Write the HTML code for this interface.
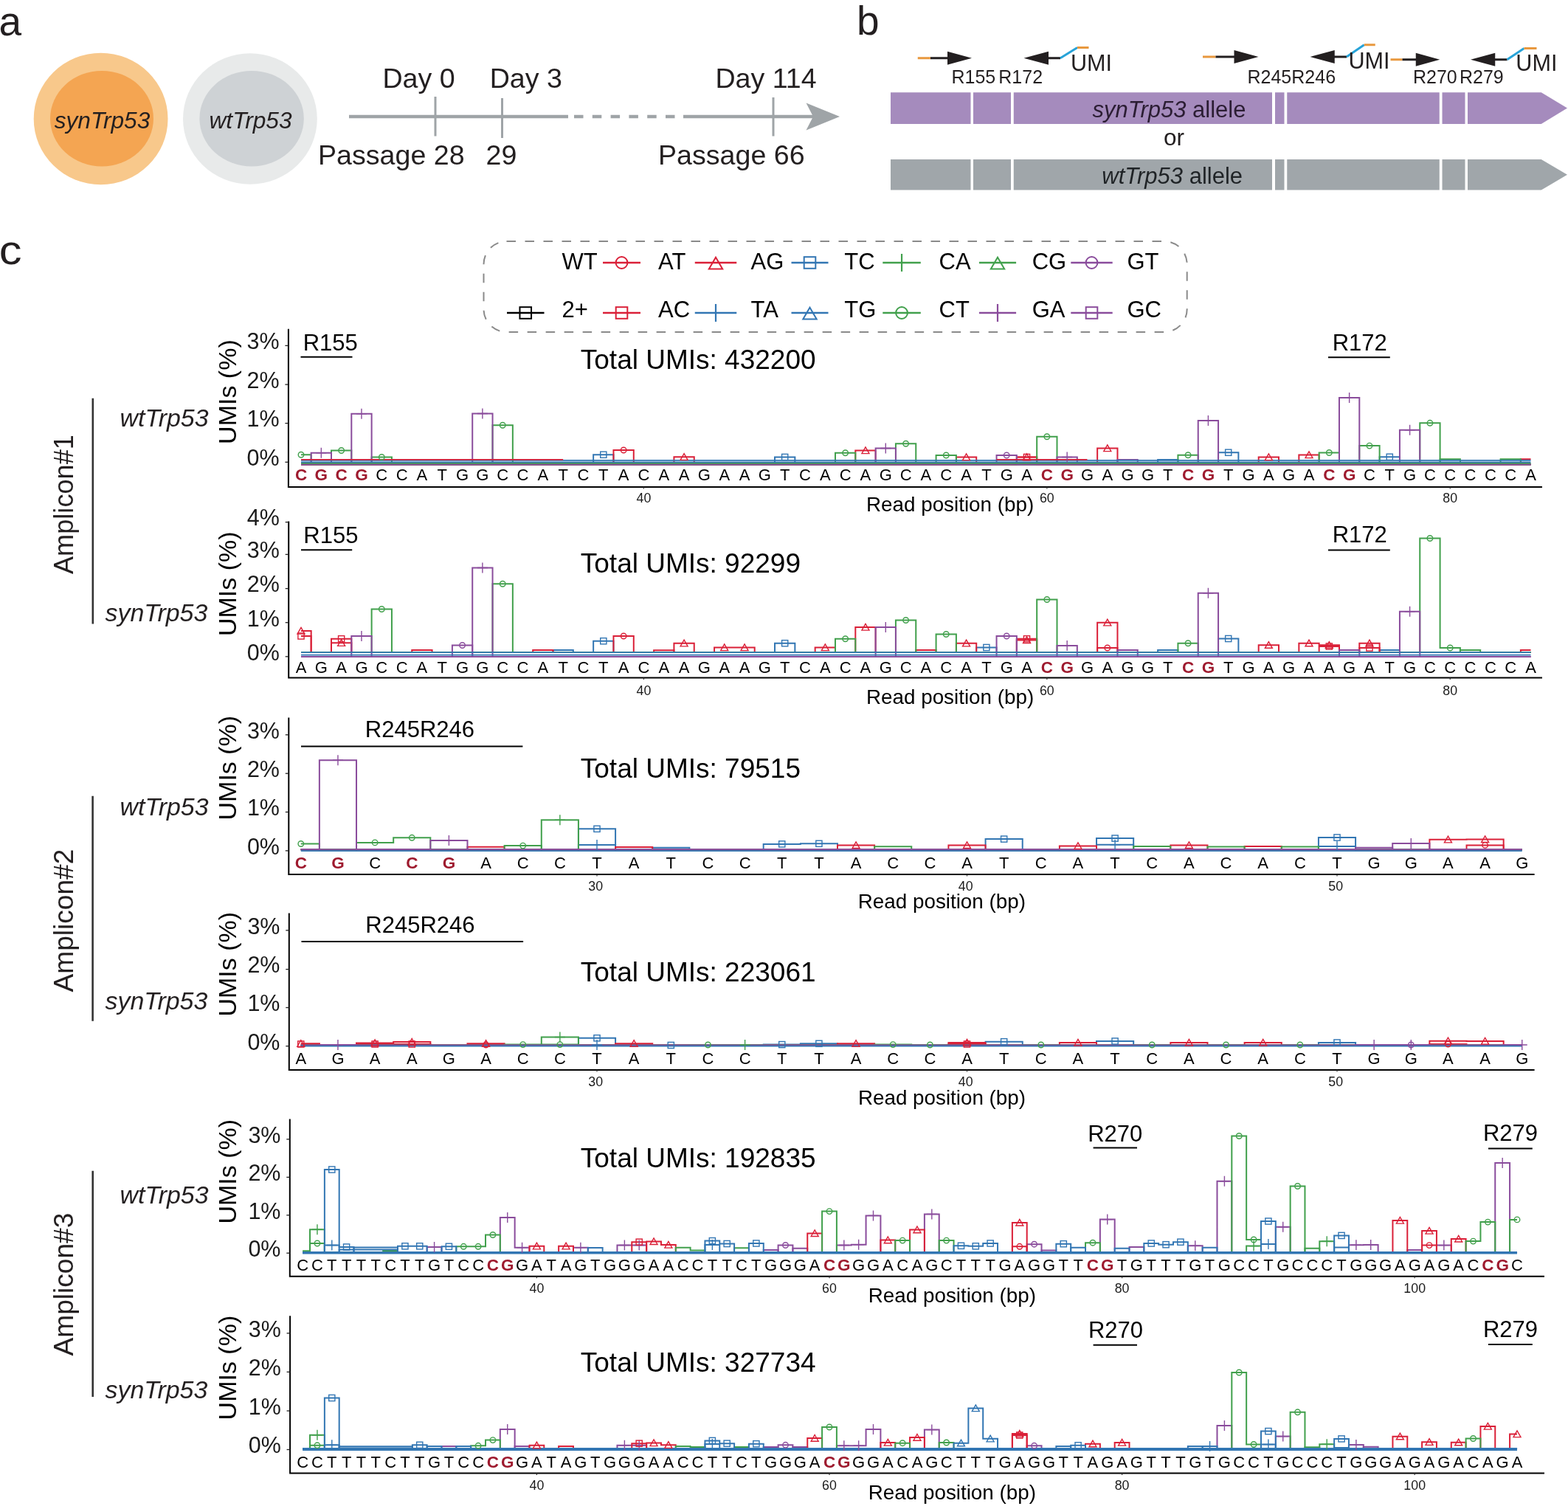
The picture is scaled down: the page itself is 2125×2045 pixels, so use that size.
<!DOCTYPE html><html><head><meta charset="utf-8"><title>Figure</title><style>html,body{margin:0;padding:0;background:#fff;}svg{display:block;}text{font-family:'Liberation Sans', Arial, Helvetica, sans-serif;}</style></head><body>
<svg width="2125" height="2045" viewBox="0 0 2125 2045">
<rect width="2125" height="2045" fill="#fff"/>
<text x="-1.5" y="48" font-size="55" text-anchor="start" fill="#231f20">a</text>
<ellipse cx="136.6" cy="161" rx="90.9" ry="89.2" fill="#f8c88b"/>
<ellipse cx="138" cy="160.7" rx="70" ry="64.8" fill="#f4a552"/>
<ellipse cx="338.9" cy="161" rx="90.9" ry="88.7" fill="#e8eaea"/>
<ellipse cx="341.1" cy="160.7" rx="70.7" ry="64.8" fill="#ced2d5"/>
<text x="138.5" y="173.7" font-size="31.7" text-anchor="middle" fill="#231f20" font-style="italic">synTrp53</text>
<text x="339.5" y="173.7" font-size="31.7" text-anchor="middle" fill="#231f20" font-style="italic">wtTrp53</text>
<path d="M473 158H770" stroke="#9fa4a7" stroke-width="4.5" fill="none"/>
<path d="M778 158H926" stroke="#9fa4a7" stroke-width="4.5" fill="none" stroke-dasharray="12.5 12.3"/>
<path d="M926 158H1103" stroke="#9fa4a7" stroke-width="4.5" fill="none"/>
<path d="M1138 158L1092.5 139.5L1102 158L1092.5 176.5Z" fill="#9fa4a7"/>
<path d="M590 131V184.5" stroke="#9fa4a7" stroke-width="3" fill="none"/>
<path d="M680.5 133V187" stroke="#9fa4a7" stroke-width="3" fill="none"/>
<path d="M1048 132V184.5" stroke="#9fa4a7" stroke-width="3" fill="none"/>
<text x="567.5" y="119" font-size="37.6" text-anchor="middle" fill="#231f20">Day 0</text>
<text x="712.8" y="119" font-size="37.6" text-anchor="middle" fill="#231f20">Day 3</text>
<text x="1038" y="119" font-size="37.6" text-anchor="middle" fill="#231f20">Day 114</text>
<text x="530.3" y="222.5" font-size="37.6" text-anchor="middle" fill="#231f20">Passage 28</text>
<text x="679.5" y="222.5" font-size="37.6" text-anchor="middle" fill="#231f20">29</text>
<text x="991.3" y="222.5" font-size="37.6" text-anchor="middle" fill="#231f20">Passage 66</text>
<text x="1161" y="47" font-size="55" text-anchor="start" fill="#231f20">b</text>
<path d="M1207 125.3H2088.75L2124 146.6L2088.75 167.9H1207Z" fill="#a58bbd"/>
<rect x="1315.5" y="124.3" width="3.5" height="44.6" fill="#fff"/>
<rect x="1370" y="124.3" width="3.75" height="44.6" fill="#fff"/>
<rect x="1724" y="124.3" width="4" height="44.6" fill="#fff"/>
<rect x="1740.5" y="124.3" width="3.75" height="44.6" fill="#fff"/>
<rect x="1950.75" y="124.3" width="3.75" height="44.6" fill="#fff"/>
<rect x="1985.5" y="124.3" width="3.5" height="44.6" fill="#fff"/>
<path d="M1207 216H2088.75L2124 236.8L2088.75 257.6H1207Z" fill="#a0a6aa"/>
<rect x="1315.5" y="215" width="3.5" height="43.6" fill="#fff"/>
<rect x="1370" y="215" width="3.75" height="43.6" fill="#fff"/>
<rect x="1724" y="215" width="4" height="43.6" fill="#fff"/>
<rect x="1740.5" y="215" width="3.75" height="43.6" fill="#fff"/>
<rect x="1950.75" y="215" width="3.75" height="43.6" fill="#fff"/>
<rect x="1985.5" y="215" width="3.5" height="43.6" fill="#fff"/>
<text x="1584.5" y="158.7" font-size="31" text-anchor="middle" fill="#2b1d33"><tspan font-style="italic">synTrp53</tspan> allele</text>
<text x="1588.7" y="248.5" font-size="31" text-anchor="middle" fill="#1f2326"><tspan font-style="italic">wtTrp53</tspan> allele</text>
<text x="1591" y="196.9" font-size="31.5" text-anchor="middle" fill="#231f20">or</text>
<path d="M1243.75 78.75H1261" stroke="#e8983e" stroke-width="3" fill="none"/>
<path d="M1261 78.75H1286" stroke="#231f20" stroke-width="3" fill="none"/>
<path d="M1284 69.75L1317 78.75L1284 87.75Z" fill="#231f20"/>
<path d="M1387.5 78.75L1421 69.75L1421 87.75Z" fill="#231f20"/>
<path d="M1419 78.75H1437" stroke="#231f20" stroke-width="3" fill="none"/>
<path d="M1437 78.75L1460 64.5" stroke="#27a3d8" stroke-width="3" fill="none"/>
<path d="M1460 64.5H1475.5" stroke="#e8983e" stroke-width="3" fill="none"/>
<path d="M1630 77H1647.5" stroke="#e8983e" stroke-width="3" fill="none"/>
<path d="M1647.5 77H1674.5" stroke="#231f20" stroke-width="3" fill="none"/>
<path d="M1672.5 68L1705.5 77L1672.5 86Z" fill="#231f20"/>
<path d="M1775.5 77L1808.75 68L1808.75 86Z" fill="#231f20"/>
<path d="M1806.75 77H1825" stroke="#231f20" stroke-width="3" fill="none"/>
<path d="M1825 77L1848.75 60.75" stroke="#27a3d8" stroke-width="3" fill="none"/>
<path d="M1848.75 60.75H1863.75" stroke="#e8983e" stroke-width="3" fill="none"/>
<path d="M1884.5 80.75H1900.5" stroke="#e8983e" stroke-width="3" fill="none"/>
<path d="M1900.5 80.75H1920.75" stroke="#231f20" stroke-width="3" fill="none"/>
<path d="M1918.75 71.75L1951.25 80.75L1918.75 89.75Z" fill="#231f20"/>
<path d="M1993 80.75L2026.25 71.75L2026.25 89.75Z" fill="#231f20"/>
<path d="M2024.25 80.75H2042.5" stroke="#231f20" stroke-width="3" fill="none"/>
<path d="M2042.5 80.75L2065.5 65.5" stroke="#27a3d8" stroke-width="3" fill="none"/>
<path d="M2065.5 65.5H2082.5" stroke="#e8983e" stroke-width="3" fill="none"/>
<text x="1451" y="96.3" font-size="30.6" text-anchor="start" fill="#231f20">UMI</text>
<text x="1827.5" y="93.3" font-size="30.6" text-anchor="start" fill="#231f20">UMI</text>
<text x="2054.3" y="96.3" font-size="30.6" text-anchor="start" fill="#231f20">UMI</text>
<text x="1289.5" y="113.3" font-size="25" text-anchor="start" fill="#231f20">R155</text>
<text x="1353.3" y="113.3" font-size="25" text-anchor="start" fill="#231f20">R172</text>
<text x="1690.5" y="113.3" font-size="25" text-anchor="start" fill="#231f20">R245R246</text>
<text x="1915" y="113.3" font-size="25" text-anchor="start" fill="#231f20">R270</text>
<text x="1978" y="113.3" font-size="25" text-anchor="start" fill="#231f20">R279</text>
<text x="0" y="0" font-size="55.5" fill="#231f20" transform="translate(-1.3 357.6) scale(1.11 1)">c</text>
<rect x="655.5" y="327" width="953.2" height="123" rx="31" ry="31" fill="none" stroke="#8a8a8a" stroke-width="2" stroke-dasharray="12.5 12.5"/>
<text x="761.5" y="365" font-size="31" text-anchor="start" fill="#000">WT</text>
<path d="M817 356H868" stroke="#da2038" stroke-width="2.6" fill="none"/>
<circle cx="842.5" cy="356" r="7.9" fill="none" stroke="#da2038" stroke-width="2"/>
<text x="892" y="365" font-size="31" text-anchor="start" fill="#000">AT</text>
<path d="M941.75 356H998.25" stroke="#da2038" stroke-width="2.6" fill="none"/>
<path d="M970 348.8L979.2 364.6L960.8 364.6Z" fill="none" stroke="#da2038" stroke-width="2"/>
<text x="1017.5" y="365" font-size="31" text-anchor="start" fill="#000">AG</text>
<path d="M1072.5 356H1122.5" stroke="#3276b3" stroke-width="2.6" fill="none"/>
<rect x="1089.7" y="348.2" width="15.6" height="15.6" fill="none" stroke="#3276b3" stroke-width="2"/>
<text x="1144.25" y="365" font-size="31" text-anchor="start" fill="#000">TC</text>
<path d="M1196.3 356H1247.8" stroke="#41a04c" stroke-width="2.6" fill="none"/>
<path d="M1222.05 344V368" stroke="#41a04c" stroke-width="2.2" fill="none"/>
<text x="1272.5" y="365" font-size="31" text-anchor="start" fill="#000">CA</text>
<path d="M1326.9 356H1377.1" stroke="#41a04c" stroke-width="2.6" fill="none"/>
<path d="M1352 348.8L1361.2 364.6L1342.8 364.6Z" fill="none" stroke="#41a04c" stroke-width="2"/>
<text x="1398.7" y="365" font-size="31" text-anchor="start" fill="#000">CG</text>
<path d="M1451.3 356H1507.7" stroke="#8a4c9c" stroke-width="2.6" fill="none"/>
<circle cx="1479.5" cy="356" r="7.9" fill="none" stroke="#8a4c9c" stroke-width="2"/>
<text x="1527.5" y="365" font-size="31" text-anchor="start" fill="#000">GT</text>
<path d="M687 424H737.5" stroke="#000000" stroke-width="2.6" fill="none"/>
<rect x="704.45" y="416.2" width="15.6" height="15.6" fill="none" stroke="#000000" stroke-width="2"/>
<text x="761.5" y="430" font-size="31" text-anchor="start" fill="#000">2+</text>
<path d="M817 424H868" stroke="#da2038" stroke-width="2.6" fill="none"/>
<rect x="834.7" y="416.2" width="15.6" height="15.6" fill="none" stroke="#da2038" stroke-width="2"/>
<text x="892" y="430" font-size="31" text-anchor="start" fill="#000">AC</text>
<path d="M941.75 424H998.25" stroke="#3276b3" stroke-width="2.6" fill="none"/>
<path d="M970 412V436" stroke="#3276b3" stroke-width="2.2" fill="none"/>
<text x="1017.5" y="430" font-size="31" text-anchor="start" fill="#000">TA</text>
<path d="M1072.5 424H1122.5" stroke="#3276b3" stroke-width="2.6" fill="none"/>
<path d="M1097.5 416.8L1106.7 432.6L1088.3 432.6Z" fill="none" stroke="#3276b3" stroke-width="2"/>
<text x="1144.25" y="430" font-size="31" text-anchor="start" fill="#000">TG</text>
<path d="M1196.3 424H1247.8" stroke="#41a04c" stroke-width="2.6" fill="none"/>
<circle cx="1222.05" cy="424" r="7.9" fill="none" stroke="#41a04c" stroke-width="2"/>
<text x="1272.5" y="430" font-size="31" text-anchor="start" fill="#000">CT</text>
<path d="M1326.9 424H1377.1" stroke="#8a4c9c" stroke-width="2.6" fill="none"/>
<path d="M1352 412V436" stroke="#8a4c9c" stroke-width="2.2" fill="none"/>
<text x="1398.7" y="430" font-size="31" text-anchor="start" fill="#000">GA</text>
<path d="M1451.3 424H1507.7" stroke="#8a4c9c" stroke-width="2.6" fill="none"/>
<rect x="1471.7" y="416.2" width="15.6" height="15.6" fill="none" stroke="#8a4c9c" stroke-width="2"/>
<text x="1527.5" y="430" font-size="31" text-anchor="start" fill="#000">GC</text>
<path d="M390.9 445.8V660H2090" stroke="#000" stroke-width="2" fill="none"/>
<path d="M386.4 626.3H390.9" stroke="#222" stroke-width="1.3" fill="none"/>
<text x="378.6" y="631.1" font-size="30.5" text-anchor="end" fill="#1a1a1a">0%</text>
<path d="M386.4 573.6H390.9" stroke="#222" stroke-width="1.3" fill="none"/>
<text x="378.6" y="578.4" font-size="30.5" text-anchor="end" fill="#1a1a1a">1%</text>
<path d="M386.4 521.1H390.9" stroke="#222" stroke-width="1.3" fill="none"/>
<text x="378.6" y="525.9" font-size="30.5" text-anchor="end" fill="#1a1a1a">2%</text>
<path d="M386.4 468.4H390.9" stroke="#222" stroke-width="1.3" fill="none"/>
<text x="378.6" y="473.2" font-size="30.5" text-anchor="end" fill="#1a1a1a">3%</text>
<path d="M872.44 660V662.5" stroke="#333" stroke-width="1.2" fill="none"/>
<text x="872.44" y="681" font-size="17.8" text-anchor="middle" fill="#1a1a1a">40</text>
<path d="M1418.84 660V662.5" stroke="#333" stroke-width="1.2" fill="none"/>
<text x="1418.84" y="681" font-size="17.8" text-anchor="middle" fill="#1a1a1a">60</text>
<path d="M1965.24 660V662.5" stroke="#333" stroke-width="1.2" fill="none"/>
<text x="1965.24" y="681" font-size="17.8" text-anchor="middle" fill="#1a1a1a">80</text>
<text x="408" y="650.8" font-size="22.5" text-anchor="middle" fill="#9e1a2e" font-weight="bold">C</text>
<text x="435.32" y="650.8" font-size="22.5" text-anchor="middle" fill="#9e1a2e" font-weight="bold">G</text>
<text x="462.64" y="650.8" font-size="22.5" text-anchor="middle" fill="#9e1a2e" font-weight="bold">C</text>
<text x="489.96" y="650.8" font-size="22.5" text-anchor="middle" fill="#9e1a2e" font-weight="bold">G</text>
<text x="517.28" y="650.8" font-size="22" text-anchor="middle" fill="#000">C</text>
<text x="544.6" y="650.8" font-size="22" text-anchor="middle" fill="#000">C</text>
<text x="571.92" y="650.8" font-size="22" text-anchor="middle" fill="#000">A</text>
<text x="599.24" y="650.8" font-size="22" text-anchor="middle" fill="#000">T</text>
<text x="626.56" y="650.8" font-size="22" text-anchor="middle" fill="#000">G</text>
<text x="653.88" y="650.8" font-size="22" text-anchor="middle" fill="#000">G</text>
<text x="681.2" y="650.8" font-size="22" text-anchor="middle" fill="#000">C</text>
<text x="708.52" y="650.8" font-size="22" text-anchor="middle" fill="#000">C</text>
<text x="735.84" y="650.8" font-size="22" text-anchor="middle" fill="#000">A</text>
<text x="763.16" y="650.8" font-size="22" text-anchor="middle" fill="#000">T</text>
<text x="790.48" y="650.8" font-size="22" text-anchor="middle" fill="#000">C</text>
<text x="817.8" y="650.8" font-size="22" text-anchor="middle" fill="#000">T</text>
<text x="845.12" y="650.8" font-size="22" text-anchor="middle" fill="#000">A</text>
<text x="872.44" y="650.8" font-size="22" text-anchor="middle" fill="#000">C</text>
<text x="899.76" y="650.8" font-size="22" text-anchor="middle" fill="#000">A</text>
<text x="927.08" y="650.8" font-size="22" text-anchor="middle" fill="#000">A</text>
<text x="954.4" y="650.8" font-size="22" text-anchor="middle" fill="#000">G</text>
<text x="981.72" y="650.8" font-size="22" text-anchor="middle" fill="#000">A</text>
<text x="1009.04" y="650.8" font-size="22" text-anchor="middle" fill="#000">A</text>
<text x="1036.36" y="650.8" font-size="22" text-anchor="middle" fill="#000">G</text>
<text x="1063.68" y="650.8" font-size="22" text-anchor="middle" fill="#000">T</text>
<text x="1091" y="650.8" font-size="22" text-anchor="middle" fill="#000">C</text>
<text x="1118.32" y="650.8" font-size="22" text-anchor="middle" fill="#000">A</text>
<text x="1145.64" y="650.8" font-size="22" text-anchor="middle" fill="#000">C</text>
<text x="1172.96" y="650.8" font-size="22" text-anchor="middle" fill="#000">A</text>
<text x="1200.28" y="650.8" font-size="22" text-anchor="middle" fill="#000">G</text>
<text x="1227.6" y="650.8" font-size="22" text-anchor="middle" fill="#000">C</text>
<text x="1254.92" y="650.8" font-size="22" text-anchor="middle" fill="#000">A</text>
<text x="1282.24" y="650.8" font-size="22" text-anchor="middle" fill="#000">C</text>
<text x="1309.56" y="650.8" font-size="22" text-anchor="middle" fill="#000">A</text>
<text x="1336.88" y="650.8" font-size="22" text-anchor="middle" fill="#000">T</text>
<text x="1364.2" y="650.8" font-size="22" text-anchor="middle" fill="#000">G</text>
<text x="1391.52" y="650.8" font-size="22" text-anchor="middle" fill="#000">A</text>
<text x="1418.84" y="650.8" font-size="22.5" text-anchor="middle" fill="#9e1a2e" font-weight="bold">C</text>
<text x="1446.16" y="650.8" font-size="22.5" text-anchor="middle" fill="#9e1a2e" font-weight="bold">G</text>
<text x="1473.48" y="650.8" font-size="22" text-anchor="middle" fill="#000">G</text>
<text x="1500.8" y="650.8" font-size="22" text-anchor="middle" fill="#000">A</text>
<text x="1528.12" y="650.8" font-size="22" text-anchor="middle" fill="#000">G</text>
<text x="1555.44" y="650.8" font-size="22" text-anchor="middle" fill="#000">G</text>
<text x="1582.76" y="650.8" font-size="22" text-anchor="middle" fill="#000">T</text>
<text x="1610.08" y="650.8" font-size="22.5" text-anchor="middle" fill="#9e1a2e" font-weight="bold">C</text>
<text x="1637.4" y="650.8" font-size="22.5" text-anchor="middle" fill="#9e1a2e" font-weight="bold">G</text>
<text x="1664.72" y="650.8" font-size="22" text-anchor="middle" fill="#000">T</text>
<text x="1692.04" y="650.8" font-size="22" text-anchor="middle" fill="#000">G</text>
<text x="1719.36" y="650.8" font-size="22" text-anchor="middle" fill="#000">A</text>
<text x="1746.68" y="650.8" font-size="22" text-anchor="middle" fill="#000">G</text>
<text x="1774" y="650.8" font-size="22" text-anchor="middle" fill="#000">A</text>
<text x="1801.32" y="650.8" font-size="22.5" text-anchor="middle" fill="#9e1a2e" font-weight="bold">C</text>
<text x="1828.64" y="650.8" font-size="22.5" text-anchor="middle" fill="#9e1a2e" font-weight="bold">G</text>
<text x="1855.96" y="650.8" font-size="22" text-anchor="middle" fill="#000">C</text>
<text x="1883.28" y="650.8" font-size="22" text-anchor="middle" fill="#000">T</text>
<text x="1910.6" y="650.8" font-size="22" text-anchor="middle" fill="#000">G</text>
<text x="1937.92" y="650.8" font-size="22" text-anchor="middle" fill="#000">C</text>
<text x="1965.24" y="650.8" font-size="22" text-anchor="middle" fill="#000">C</text>
<text x="1992.56" y="650.8" font-size="22" text-anchor="middle" fill="#000">C</text>
<text x="2019.88" y="650.8" font-size="22" text-anchor="middle" fill="#000">C</text>
<text x="2047.2" y="650.8" font-size="22" text-anchor="middle" fill="#000">C</text>
<text x="2074.52" y="650.8" font-size="22" text-anchor="middle" fill="#000">A</text>
<text x="1174" y="692.5" font-size="27.8" text-anchor="start" fill="#000">Read position (bp)</text>
<text x="786.8" y="500.2" font-size="37" text-anchor="start" fill="#000">Total UMIs: 432200</text>
<text x="410.7" y="475" font-size="31" text-anchor="start" fill="#000">R155</text>
<path d="M407.5 483.8H477.5" stroke="#000" stroke-width="2" fill="none"/>
<text x="1805.7" y="474.8" font-size="31" text-anchor="start" fill="#000">R172</text>
<path d="M1800 484.2H1883.8" stroke="#000" stroke-width="2" fill="none"/>
<text x="0" y="0" font-size="34" fill="#000" transform="translate(320.3 601.9) rotate(-90)">UMIs (%)</text>
<path d="M408 629.3H421.66H448.98H476.3H503.62H530.94H558.26H585.58H612.9H640.22H667.54H694.86H722.18H749.5H776.82H804.14H831.46H858.78H886.1H913.42H940.74H968.06H995.38H1022.7H1050.02H1077.34H1104.66H1131.98H1159.3H1186.62H1213.94H1241.26H1268.58H1295.9H1323.22H1350.54H1377.86H1405.18H1432.5H1459.82H1487.14H1514.46H1541.78H1569.1V623H1596.42V629.3H1623.74H1651.06H1678.38H1705.7H1733.02H1760.34H1787.66H1814.98H1842.3H1869.62H1896.94H1924.26H1951.58H1978.9H2006.22H2033.54H2060.86H2074.52" stroke="#3276b3" stroke-width="2" fill="none"/>
<path d="M408 629.3H421.66H448.98H476.3H503.62H530.94H558.26H585.58H612.9H640.22H667.54H694.86H722.18H749.5H776.82H804.14V616.25H831.46V629.3H858.78H886.1H913.42H940.74H968.06H995.38H1022.7H1050.02V619.5H1077.34V629.3H1104.66H1131.98H1159.3H1186.62H1213.94H1241.26H1268.58H1295.9H1323.22H1350.54H1377.86H1405.18H1432.5H1459.82H1487.14H1514.46H1541.78H1569.1H1596.42H1623.74H1651.06V613.25H1678.38V629.3H1705.7H1733.02H1760.34H1787.66H1814.98H1842.3H1869.62V619.3H1896.94V629.3H1924.26H1951.58H1978.9H2006.22H2033.54H2060.86H2074.52" stroke="#3276b3" stroke-width="2" fill="none"/>
<path d="M408 629.3H421.66H448.98H476.3H503.62H530.94H558.26H585.58H612.9H640.22H667.54H694.86H722.18H749.5H776.82H804.14H831.46H858.78H886.1H913.42H940.74H968.06H995.38H1022.7H1050.02H1077.34H1104.66H1131.98H1159.3H1186.62H1213.94H1241.26H1268.58H1295.9H1323.22H1350.54H1377.86H1405.18H1432.5H1459.82H1487.14H1514.46H1541.78H1569.1H1596.42H1623.74H1651.06H1678.38H1705.7H1733.02H1760.34H1787.66H1814.98H1842.3H1869.62H1896.94H1924.26H1951.58H1978.9H2006.22H2033.54H2060.86V622.3H2074.52" stroke="#da2038" stroke-width="2" fill="none"/>
<path d="M408 629.3H421.66H448.98H476.3H503.62H530.94H558.26H585.58H612.9H640.22H667.54H694.86H722.18H749.5H776.82H804.14H831.46V610H858.78V629.3H886.1H913.42H940.74H968.06H995.38H1022.7H1050.02H1077.34H1104.66H1131.98H1159.3H1186.62H1213.94H1241.26H1268.58H1295.9H1323.22H1350.54H1377.86H1405.18H1432.5H1459.82H1487.14H1514.46H1541.78H1569.1H1596.42H1623.74H1651.06H1678.38H1705.7H1733.02H1760.34H1787.66H1814.98H1842.3H1869.62H1896.94H1924.26H1951.58H1978.9H2006.22H2033.54H2060.86H2074.52" stroke="#da2038" stroke-width="2" fill="none"/>
<path d="M408 629.3H421.66H448.98H476.3H503.62H530.94H558.26H585.58H612.9H640.22H667.54H694.86H722.18H749.5H776.82H804.14H831.46H858.78H886.1H913.42V619.25H940.74V629.3H968.06H995.38H1022.7H1050.02H1077.34H1104.66H1131.98H1159.3V610.5H1186.62V629.3H1213.94H1241.26H1268.58H1295.9V619.5H1323.22V629.3H1350.54H1377.86V619.5H1405.18V629.3H1432.5H1459.82H1487.14V607.5H1514.46V629.3H1541.78H1569.1H1596.42H1623.74H1651.06H1678.38H1705.7V619.5H1733.02V629.3H1760.34V616.5H1787.66V629.3H1814.98H1842.3H1869.62H1896.94H1924.26H1951.58H1978.9H2006.22H2033.54H2060.86H2074.52" stroke="#da2038" stroke-width="2" fill="none"/>
<path d="M408 629.3H421.66H448.98H476.3H503.62H530.94H558.26H585.58H612.9H640.22H667.54H694.86H722.18H749.5H776.82H804.14H831.46H858.78H886.1H913.42H940.74H968.06H995.38H1022.7H1050.02H1077.34H1104.66H1131.98H1159.3H1186.62H1213.94H1241.26H1268.58H1295.9H1323.22H1350.54H1377.86V619.5H1405.18V629.3H1432.5H1459.82H1487.14H1514.46H1541.78H1569.1H1596.42H1623.74H1651.06H1678.38H1705.7H1733.02H1760.34H1787.66H1814.98H1842.3H1869.62H1896.94H1924.26H1951.58H1978.9H2006.22H2033.54H2060.86H2074.52" stroke="#da2038" stroke-width="2" fill="none"/>
<path d="M408 629.3H421.66H448.98H476.3H503.62H530.94H558.26H585.58H612.9H640.22H667.54H694.86H722.18H749.5H776.82H804.14H831.46H858.78H886.1H913.42H940.74H968.06H995.38H1022.7H1050.02H1077.34H1104.66H1131.98H1159.3H1186.62H1213.94H1241.26H1268.58H1295.9H1323.22H1350.54H1377.86H1405.18H1432.5H1459.82H1487.14H1514.46H1541.78H1569.1H1596.42H1623.74H1651.06H1678.38H1705.7H1733.02H1760.34H1787.66H1814.98H1842.3H1869.62H1896.94H1924.26H1951.58V622.3H1978.9V629.3H2006.22H2033.54V622.3H2060.86V629.3H2074.52" stroke="#41a04c" stroke-width="2" fill="none"/>
<path d="M408 616.25H421.66V629.3H448.98V610.5H476.3V629.3H503.62V619.5H530.94V629.3H558.26H585.58H612.9H640.22H667.54V576.25H694.86V629.3H722.18H749.5H776.82H804.14H831.46H858.78H886.1H913.42H940.74H968.06H995.38H1022.7H1050.02H1077.34H1104.66H1131.98V613.75H1159.3V629.3H1186.62H1213.94V601.25H1241.26V629.3H1268.58V617H1295.9V629.3H1323.22H1350.54H1377.86H1405.18V591.75H1432.5V629.3H1459.82H1487.14H1514.46H1541.78H1569.1H1596.42V616.75H1623.74V629.3H1651.06H1678.38H1705.7H1733.02H1760.34H1787.66V613.5H1814.98V629.3H1842.3V604.1H1869.62V629.3H1896.94H1924.26V573.3H1951.58V629.3H1978.9H2006.22H2033.54H2060.86H2074.52" stroke="#41a04c" stroke-width="2" fill="none"/>
<path d="M408 629.3H421.66H448.98H476.3H503.62H530.94H558.26H585.58H612.9H640.22H667.54H694.86H722.18H749.5H776.82H804.14H831.46H858.78H886.1H913.42H940.74H968.06H995.38H1022.7H1050.02H1077.34H1104.66H1131.98H1159.3H1186.62H1213.94H1241.26H1268.58H1295.9H1323.22H1350.54H1377.86H1405.18H1432.5H1459.82H1487.14H1514.46V623H1541.78V629.3H1569.1H1596.42H1623.74H1651.06H1678.38H1705.7H1733.02H1760.34H1787.66H1814.98H1842.3H1869.62H1896.94H1924.26H1951.58H1978.9H2006.22H2033.54H2060.86H2074.52" stroke="#8a4c9c" stroke-width="2" fill="none"/>
<path d="M408 629.3H421.66V613.75H448.98V629.3H476.3V560.75H503.62V629.3H530.94H558.26H585.58H612.9H640.22V560.5H667.54V629.3H694.86H722.18H749.5H776.82H804.14H831.46H858.78H886.1H913.42H940.74H968.06H995.38H1022.7H1050.02H1077.34H1104.66H1131.98H1159.3H1186.62V607.5H1213.94V629.3H1241.26H1268.58H1295.9H1323.22H1350.54H1377.86H1405.18H1432.5V619.5H1459.82V629.3H1487.14H1514.46H1541.78H1569.1H1596.42H1623.74V570H1651.06V629.3H1678.38H1705.7H1733.02H1760.34H1787.66H1814.98V539H1842.3V629.3H1869.62H1896.94V582.7H1924.26V629.3H1951.58H1978.9H2006.22H2033.54H2060.86H2074.52" stroke="#8a4c9c" stroke-width="2" fill="none"/>
<path d="M408 629.3H421.66H448.98H476.3H503.62H530.94H558.26H585.58H612.9H640.22H667.54H694.86H722.18H749.5H776.82H804.14H831.46H858.78H886.1H913.42H940.74H968.06H995.38H1022.7H1050.02H1077.34H1104.66H1131.98H1159.3H1186.62H1213.94H1241.26H1268.58H1295.9H1323.22H1350.54V617H1377.86V629.3H1405.18H1432.5H1459.82H1487.14H1514.46H1541.78H1569.1H1596.42H1623.74H1651.06H1678.38H1705.7H1733.02H1760.34H1787.66H1814.98H1842.3H1869.62H1896.94H1924.26H1951.58H1978.9H2006.22H2033.54H2060.86H2074.52" stroke="#8a4c9c" stroke-width="2" fill="none"/>
<path d="M408 627.8H2074.52" stroke="#41a04c" stroke-width="1.8" fill="none"/>
<path d="M408 626.3H2074.52" stroke="#3276b3" stroke-width="1.8" fill="none"/>
<path d="M408 623.8H2074.52" stroke="#3276b3" stroke-width="1.8" fill="none"/>
<path d="M408 622.9H763.16" stroke="#da2038" stroke-width="1.8" fill="none"/>
<path d="M1350.54 622.9H1473.48" stroke="#da2038" stroke-width="1.8" fill="none"/>
<rect x="813.7" y="612.15" width="8.2" height="8.2" fill="none" stroke="#3276b3" stroke-width="1.4"/>
<rect x="1059.58" y="615.4" width="8.2" height="8.2" fill="none" stroke="#3276b3" stroke-width="1.4"/>
<rect x="1660.62" y="609.15" width="8.2" height="8.2" fill="none" stroke="#3276b3" stroke-width="1.4"/>
<rect x="1879.18" y="615.2" width="8.2" height="8.2" fill="none" stroke="#3276b3" stroke-width="1.4"/>
<circle cx="845.12" cy="610" r="3.75" fill="none" stroke="#da2038" stroke-width="1.4"/>
<path d="M927.08 614.65L932.08 623.35L922.08 623.35Z" fill="none" stroke="#da2038" stroke-width="1.4" stroke-linejoin="miter"/>
<path d="M1172.96 605.9L1177.96 614.6L1167.96 614.6Z" fill="none" stroke="#da2038" stroke-width="1.4" stroke-linejoin="miter"/>
<path d="M1309.56 614.9L1314.56 623.6L1304.56 623.6Z" fill="none" stroke="#da2038" stroke-width="1.4" stroke-linejoin="miter"/>
<path d="M1391.52 614.9L1396.52 623.6L1386.52 623.6Z" fill="none" stroke="#da2038" stroke-width="1.4" stroke-linejoin="miter"/>
<path d="M1500.8 602.9L1505.8 611.6L1495.8 611.6Z" fill="none" stroke="#da2038" stroke-width="1.4" stroke-linejoin="miter"/>
<path d="M1719.36 614.9L1724.36 623.6L1714.36 623.6Z" fill="none" stroke="#da2038" stroke-width="1.4" stroke-linejoin="miter"/>
<path d="M1774 611.9L1779 620.6L1769 620.6Z" fill="none" stroke="#da2038" stroke-width="1.4" stroke-linejoin="miter"/>
<rect x="1387.42" y="615.4" width="8.2" height="8.2" fill="none" stroke="#da2038" stroke-width="1.4"/>
<circle cx="408" cy="616.25" r="3.75" fill="none" stroke="#41a04c" stroke-width="1.4"/>
<circle cx="462.64" cy="610.5" r="3.75" fill="none" stroke="#41a04c" stroke-width="1.4"/>
<circle cx="517.28" cy="619.5" r="3.75" fill="none" stroke="#41a04c" stroke-width="1.4"/>
<circle cx="681.2" cy="576.25" r="3.75" fill="none" stroke="#41a04c" stroke-width="1.4"/>
<circle cx="1145.64" cy="613.75" r="3.75" fill="none" stroke="#41a04c" stroke-width="1.4"/>
<circle cx="1227.6" cy="601.25" r="3.75" fill="none" stroke="#41a04c" stroke-width="1.4"/>
<circle cx="1282.24" cy="617" r="3.75" fill="none" stroke="#41a04c" stroke-width="1.4"/>
<circle cx="1418.84" cy="591.75" r="3.75" fill="none" stroke="#41a04c" stroke-width="1.4"/>
<circle cx="1610.08" cy="616.75" r="3.75" fill="none" stroke="#41a04c" stroke-width="1.4"/>
<circle cx="1801.32" cy="613.5" r="3.75" fill="none" stroke="#41a04c" stroke-width="1.4"/>
<circle cx="1855.96" cy="604.1" r="3.75" fill="none" stroke="#41a04c" stroke-width="1.4"/>
<circle cx="1937.92" cy="573.3" r="3.75" fill="none" stroke="#41a04c" stroke-width="1.4"/>
<path d="M435.32 606.75V620.75M428.32 613.75H442.32" fill="none" stroke="#8a4c9c" stroke-width="1.4"/>
<path d="M489.96 553.75V567.75M482.96 560.75H496.96" fill="none" stroke="#8a4c9c" stroke-width="1.4"/>
<path d="M653.88 553.5V567.5M646.88 560.5H660.88" fill="none" stroke="#8a4c9c" stroke-width="1.4"/>
<path d="M1200.28 600.5V614.5M1193.28 607.5H1207.28" fill="none" stroke="#8a4c9c" stroke-width="1.4"/>
<path d="M1446.16 612.5V626.5M1439.16 619.5H1453.16" fill="none" stroke="#8a4c9c" stroke-width="1.4"/>
<path d="M1637.4 563V577M1630.4 570H1644.4" fill="none" stroke="#8a4c9c" stroke-width="1.4"/>
<path d="M1828.64 532V546M1821.64 539H1835.64" fill="none" stroke="#8a4c9c" stroke-width="1.4"/>
<path d="M1910.6 575.7V589.7M1903.6 582.7H1917.6" fill="none" stroke="#8a4c9c" stroke-width="1.4"/>
<circle cx="1364.2" cy="617" r="3.75" fill="none" stroke="#8a4c9c" stroke-width="1.4"/>
<path d="M391.2 706.5V918.5H2090" stroke="#000" stroke-width="2" fill="none"/>
<path d="M386.7 889.8H391.2" stroke="#222" stroke-width="1.3" fill="none"/>
<text x="378.9" y="894.6" font-size="30.5" text-anchor="end" fill="#1a1a1a">0%</text>
<path d="M386.7 843.7H391.2" stroke="#222" stroke-width="1.3" fill="none"/>
<text x="378.9" y="848.5" font-size="30.5" text-anchor="end" fill="#1a1a1a">1%</text>
<path d="M386.7 797.6H391.2" stroke="#222" stroke-width="1.3" fill="none"/>
<text x="378.9" y="802.4" font-size="30.5" text-anchor="end" fill="#1a1a1a">2%</text>
<path d="M386.7 751.4H391.2" stroke="#222" stroke-width="1.3" fill="none"/>
<text x="378.9" y="756.2" font-size="30.5" text-anchor="end" fill="#1a1a1a">3%</text>
<path d="M386.7 707.6H391.2" stroke="#222" stroke-width="1.3" fill="none"/>
<text x="378.9" y="712.4" font-size="30.5" text-anchor="end" fill="#1a1a1a">4%</text>
<path d="M872.44 918.5V921" stroke="#333" stroke-width="1.2" fill="none"/>
<text x="872.44" y="942" font-size="17.8" text-anchor="middle" fill="#1a1a1a">40</text>
<path d="M1418.84 918.5V921" stroke="#333" stroke-width="1.2" fill="none"/>
<text x="1418.84" y="942" font-size="17.8" text-anchor="middle" fill="#1a1a1a">60</text>
<path d="M1965.24 918.5V921" stroke="#333" stroke-width="1.2" fill="none"/>
<text x="1965.24" y="942" font-size="17.8" text-anchor="middle" fill="#1a1a1a">80</text>
<text x="408" y="911.8" font-size="22" text-anchor="middle" fill="#000">A</text>
<text x="435.32" y="911.8" font-size="22" text-anchor="middle" fill="#000">G</text>
<text x="462.64" y="911.8" font-size="22" text-anchor="middle" fill="#000">A</text>
<text x="489.96" y="911.8" font-size="22" text-anchor="middle" fill="#000">G</text>
<text x="517.28" y="911.8" font-size="22" text-anchor="middle" fill="#000">C</text>
<text x="544.6" y="911.8" font-size="22" text-anchor="middle" fill="#000">C</text>
<text x="571.92" y="911.8" font-size="22" text-anchor="middle" fill="#000">A</text>
<text x="599.24" y="911.8" font-size="22" text-anchor="middle" fill="#000">T</text>
<text x="626.56" y="911.8" font-size="22" text-anchor="middle" fill="#000">G</text>
<text x="653.88" y="911.8" font-size="22" text-anchor="middle" fill="#000">G</text>
<text x="681.2" y="911.8" font-size="22" text-anchor="middle" fill="#000">C</text>
<text x="708.52" y="911.8" font-size="22" text-anchor="middle" fill="#000">C</text>
<text x="735.84" y="911.8" font-size="22" text-anchor="middle" fill="#000">A</text>
<text x="763.16" y="911.8" font-size="22" text-anchor="middle" fill="#000">T</text>
<text x="790.48" y="911.8" font-size="22" text-anchor="middle" fill="#000">C</text>
<text x="817.8" y="911.8" font-size="22" text-anchor="middle" fill="#000">T</text>
<text x="845.12" y="911.8" font-size="22" text-anchor="middle" fill="#000">A</text>
<text x="872.44" y="911.8" font-size="22" text-anchor="middle" fill="#000">C</text>
<text x="899.76" y="911.8" font-size="22" text-anchor="middle" fill="#000">A</text>
<text x="927.08" y="911.8" font-size="22" text-anchor="middle" fill="#000">A</text>
<text x="954.4" y="911.8" font-size="22" text-anchor="middle" fill="#000">G</text>
<text x="981.72" y="911.8" font-size="22" text-anchor="middle" fill="#000">A</text>
<text x="1009.04" y="911.8" font-size="22" text-anchor="middle" fill="#000">A</text>
<text x="1036.36" y="911.8" font-size="22" text-anchor="middle" fill="#000">G</text>
<text x="1063.68" y="911.8" font-size="22" text-anchor="middle" fill="#000">T</text>
<text x="1091" y="911.8" font-size="22" text-anchor="middle" fill="#000">C</text>
<text x="1118.32" y="911.8" font-size="22" text-anchor="middle" fill="#000">A</text>
<text x="1145.64" y="911.8" font-size="22" text-anchor="middle" fill="#000">C</text>
<text x="1172.96" y="911.8" font-size="22" text-anchor="middle" fill="#000">A</text>
<text x="1200.28" y="911.8" font-size="22" text-anchor="middle" fill="#000">G</text>
<text x="1227.6" y="911.8" font-size="22" text-anchor="middle" fill="#000">C</text>
<text x="1254.92" y="911.8" font-size="22" text-anchor="middle" fill="#000">A</text>
<text x="1282.24" y="911.8" font-size="22" text-anchor="middle" fill="#000">C</text>
<text x="1309.56" y="911.8" font-size="22" text-anchor="middle" fill="#000">A</text>
<text x="1336.88" y="911.8" font-size="22" text-anchor="middle" fill="#000">T</text>
<text x="1364.2" y="911.8" font-size="22" text-anchor="middle" fill="#000">G</text>
<text x="1391.52" y="911.8" font-size="22" text-anchor="middle" fill="#000">A</text>
<text x="1418.84" y="911.8" font-size="22.5" text-anchor="middle" fill="#9e1a2e" font-weight="bold">C</text>
<text x="1446.16" y="911.8" font-size="22.5" text-anchor="middle" fill="#9e1a2e" font-weight="bold">G</text>
<text x="1473.48" y="911.8" font-size="22" text-anchor="middle" fill="#000">G</text>
<text x="1500.8" y="911.8" font-size="22" text-anchor="middle" fill="#000">A</text>
<text x="1528.12" y="911.8" font-size="22" text-anchor="middle" fill="#000">G</text>
<text x="1555.44" y="911.8" font-size="22" text-anchor="middle" fill="#000">G</text>
<text x="1582.76" y="911.8" font-size="22" text-anchor="middle" fill="#000">T</text>
<text x="1610.08" y="911.8" font-size="22.5" text-anchor="middle" fill="#9e1a2e" font-weight="bold">C</text>
<text x="1637.4" y="911.8" font-size="22.5" text-anchor="middle" fill="#9e1a2e" font-weight="bold">G</text>
<text x="1664.72" y="911.8" font-size="22" text-anchor="middle" fill="#000">T</text>
<text x="1692.04" y="911.8" font-size="22" text-anchor="middle" fill="#000">G</text>
<text x="1719.36" y="911.8" font-size="22" text-anchor="middle" fill="#000">A</text>
<text x="1746.68" y="911.8" font-size="22" text-anchor="middle" fill="#000">G</text>
<text x="1774" y="911.8" font-size="22" text-anchor="middle" fill="#000">A</text>
<text x="1801.32" y="911.8" font-size="22" text-anchor="middle" fill="#000">A</text>
<text x="1828.64" y="911.8" font-size="22" text-anchor="middle" fill="#000">G</text>
<text x="1855.96" y="911.8" font-size="22" text-anchor="middle" fill="#000">A</text>
<text x="1883.28" y="911.8" font-size="22" text-anchor="middle" fill="#000">T</text>
<text x="1910.6" y="911.8" font-size="22" text-anchor="middle" fill="#000">G</text>
<text x="1937.92" y="911.8" font-size="22" text-anchor="middle" fill="#000">C</text>
<text x="1965.24" y="911.8" font-size="22" text-anchor="middle" fill="#000">C</text>
<text x="1992.56" y="911.8" font-size="22" text-anchor="middle" fill="#000">C</text>
<text x="2019.88" y="911.8" font-size="22" text-anchor="middle" fill="#000">C</text>
<text x="2047.2" y="911.8" font-size="22" text-anchor="middle" fill="#000">C</text>
<text x="2074.52" y="911.8" font-size="22" text-anchor="middle" fill="#000">A</text>
<text x="1174" y="953.8" font-size="27.8" text-anchor="start" fill="#000">Read position (bp)</text>
<text x="786.8" y="776.3" font-size="37" text-anchor="start" fill="#000">Total UMIs: 92299</text>
<text x="411.3" y="736.1" font-size="31" text-anchor="start" fill="#000">R155</text>
<path d="M408 745.3H477.2" stroke="#000" stroke-width="2" fill="none"/>
<text x="1805.7" y="735.4" font-size="31" text-anchor="start" fill="#000">R172</text>
<path d="M1800 745.5H1883.8" stroke="#000" stroke-width="2" fill="none"/>
<text x="0" y="0" font-size="34" fill="#000" transform="translate(320.3 862.1) rotate(-90)">UMIs (%)</text>
<path d="M408 884.1H421.66H448.98H476.3H503.62H530.94H558.26H585.58H612.9H640.22H667.54H694.86H722.18H749.5V881H776.82V884.1H804.14H831.46H858.78H886.1H913.42H940.74H968.06H995.38H1022.7H1050.02H1077.34H1104.66H1131.98H1159.3H1186.62H1213.94H1241.26H1268.58H1295.9H1323.22H1350.54H1377.86H1405.18H1432.5H1459.82H1487.14H1514.46H1541.78H1569.1V881H1596.42V884.1H1623.74H1651.06H1678.38H1705.7H1733.02H1760.34H1787.66H1814.98H1842.3H1869.62V881H1896.94V884.1H1924.26H1951.58H1978.9H2006.22H2033.54H2060.86H2074.52" stroke="#3276b3" stroke-width="2" fill="none"/>
<path d="M408 884.1H421.66H448.98H476.3H503.62H530.94H558.26H585.58H612.9H640.22H667.54H694.86H722.18H749.5H776.82H804.14V868.75H831.46V884.1H858.78H886.1H913.42H940.74H968.06H995.38H1022.7H1050.02V871.75H1077.34V884.1H1104.66H1131.98H1159.3H1186.62H1213.94H1241.26H1268.58H1295.9H1323.22V877.5H1350.54V884.1H1377.86H1405.18H1432.5H1459.82H1487.14H1514.46H1541.78H1569.1H1596.42H1623.74H1651.06V865.5H1678.38V884.1H1705.7H1733.02H1760.34H1787.66H1814.98H1842.3H1869.62H1896.94H1924.26H1951.58H1978.9H2006.22H2033.54H2060.86H2074.52" stroke="#3276b3" stroke-width="2" fill="none"/>
<path d="M408 884.1H421.66H448.98H476.3H503.62H530.94H558.26V881H585.58V884.1H612.9H640.22H667.54H694.86H722.18V881H749.5V884.1H776.82H804.14H831.46H858.78H886.1V881.25H913.42V884.1H940.74H968.06H995.38H1022.7H1050.02H1077.34H1104.66H1131.98H1159.3H1186.62H1213.94H1241.26V881H1268.58V884.1H1295.9H1323.22H1350.54H1377.86H1405.18H1432.5H1459.82H1487.14H1514.46H1541.78H1569.1H1596.42H1623.74H1651.06H1678.38H1705.7H1733.02H1760.34H1787.66H1814.98H1842.3H1869.62H1896.94H1924.26H1951.58H1978.9H2006.22H2033.54H2060.86V881H2074.52" stroke="#da2038" stroke-width="2" fill="none"/>
<path d="M408 855H421.66V884.1H448.98V871.25H476.3V884.1H503.62H530.94H558.26H585.58H612.9H640.22H667.54H694.86H722.18H749.5H776.82H804.14H831.46H858.78H886.1H913.42V871.75H940.74V884.1H968.06V877.5H995.38H1022.7V884.1H1050.02H1077.34H1104.66V877.5H1131.98V884.1H1159.3V850H1186.62V884.1H1213.94H1241.26H1268.58H1295.9V871.75H1323.22V884.1H1350.54H1377.86V867.5H1405.18V884.1H1432.5H1459.82H1487.14V843.75H1514.46V884.1H1541.78H1569.1H1596.42H1623.74H1651.06H1678.38H1705.7V874.2H1733.02V884.1H1760.34V871.7H1787.66V874.2H1814.98V884.1H1842.3V871.7H1869.62V884.1H1896.94H1924.26H1951.58H1978.9H2006.22H2033.54H2060.86H2074.52" stroke="#da2038" stroke-width="2" fill="none"/>
<path d="M408 862H421.66V884.1H448.98V865.75H476.3V884.1H503.62H530.94H558.26H585.58H612.9H640.22H667.54H694.86H722.18H749.5H776.82H804.14H831.46H858.78H886.1H913.42H940.74H968.06H995.38H1022.7H1050.02H1077.34H1104.66H1131.98H1159.3H1186.62H1213.94H1241.26H1268.58H1295.9H1323.22H1350.54H1377.86V865.75H1405.18V884.1H1432.5H1459.82H1487.14H1514.46H1541.78H1569.1H1596.42H1623.74H1651.06H1678.38H1705.7H1733.02H1760.34H1787.66V876H1814.98V884.1H1842.3V878H1869.62V884.1H1896.94H1924.26H1951.58H1978.9H2006.22H2033.54H2060.86H2074.52" stroke="#da2038" stroke-width="2" fill="none"/>
<path d="M408 884.1H421.66H448.98H476.3H503.62H530.94H558.26H585.58H612.9H640.22H667.54H694.86H722.18H749.5H776.82H804.14H831.46V862H858.78V884.1H886.1H913.42H940.74H968.06H995.38H1022.7H1050.02H1077.34H1104.66H1131.98H1159.3H1186.62H1213.94H1241.26H1268.58H1295.9H1323.22H1350.54H1377.86H1405.18H1432.5H1459.82H1487.14V878H1514.46V884.1H1541.78H1569.1H1596.42H1623.74H1651.06H1678.38H1705.7H1733.02H1760.34H1787.66H1814.98H1842.3H1869.62H1896.94H1924.26H1951.58H1978.9H2006.22H2033.54H2060.86H2074.52" stroke="#da2038" stroke-width="2" fill="none"/>
<path d="M408 884.1H421.66H448.98H476.3H503.62H530.94H558.26H585.58H612.9H640.22H667.54H694.86H722.18H749.5H776.82H804.14H831.46H858.78H886.1H913.42H940.74H968.06H995.38H1022.7H1050.02H1077.34H1104.66H1131.98H1159.3H1186.62H1213.94H1241.26H1268.58H1295.9H1323.22H1350.54H1377.86H1405.18H1432.5H1459.82H1487.14H1514.46H1541.78H1569.1H1596.42H1623.74H1651.06H1678.38H1705.7H1733.02H1760.34H1787.66H1814.98H1842.3H1869.62H1896.94H1924.26H1951.58H1978.9V881H2006.22V884.1H2033.54H2060.86H2074.52" stroke="#41a04c" stroke-width="2" fill="none"/>
<path d="M408 884.1H421.66H448.98H476.3H503.62V825.5H530.94V884.1H558.26H585.58H612.9H640.22H667.54V791.25H694.86V884.1H722.18H749.5H776.82H804.14H831.46H858.78H886.1H913.42H940.74H968.06H995.38H1022.7H1050.02H1077.34H1104.66H1131.98V865.75H1159.3V884.1H1186.62H1213.94V840.5H1241.26V884.1H1268.58V859.5H1295.9V884.1H1323.22H1350.54H1377.86H1405.18V812.5H1432.5V884.1H1459.82H1487.14H1514.46H1541.78H1569.1H1596.42V871.75H1623.74V884.1H1651.06H1678.38H1705.7H1733.02H1760.34H1787.66H1814.98H1842.3H1869.62H1896.94H1924.26V729.5H1951.58V878H1978.9V884.1H2006.22H2033.54H2060.86H2074.52" stroke="#41a04c" stroke-width="2" fill="none"/>
<path d="M408 890H421.66H448.98H476.3H503.62H530.94H558.26H585.58H612.9H640.22H667.54H694.86H722.18H749.5H776.82H804.14H831.46H858.78H886.1H913.42H940.74H968.06H995.38H1022.7H1050.02H1077.34H1104.66H1131.98H1159.3H1186.62H1213.94H1241.26H1268.58H1295.9H1323.22H1350.54H1377.86H1405.18H1432.5H1459.82H1487.14H1514.46V881H1541.78V890H1569.1H1596.42H1623.74H1651.06H1678.38H1705.7H1733.02H1760.34H1787.66H1814.98V881H1842.3V890H1869.62H1896.94H1924.26H1951.58H1978.9H2006.22H2033.54H2060.86H2074.52" stroke="#8a4c9c" stroke-width="2" fill="none"/>
<path d="M408 890H421.66H448.98H476.3V862H503.62V890H530.94H558.26H585.58H612.9H640.22V769.5H667.54V890H694.86H722.18H749.5H776.82H804.14H831.46H858.78H886.1H913.42H940.74H968.06H995.38H1022.7H1050.02H1077.34H1104.66H1131.98H1159.3H1186.62V850H1213.94V890H1241.26H1268.58H1295.9H1323.22H1350.54H1377.86H1405.18H1432.5V875H1459.82V890H1487.14H1514.46H1541.78H1569.1H1596.42H1623.74V803.75H1651.06V890H1678.38H1705.7H1733.02H1760.34H1787.66H1814.98H1842.3H1869.62H1896.94V828.8H1924.26V890H1951.58H1978.9H2006.22H2033.54H2060.86H2074.52" stroke="#8a4c9c" stroke-width="2" fill="none"/>
<path d="M408 890H421.66H448.98H476.3H503.62H530.94H558.26H585.58H612.9V874.5H640.22V890H667.54H694.86H722.18H749.5H776.82H804.14H831.46H858.78H886.1H913.42H940.74H968.06H995.38H1022.7H1050.02H1077.34H1104.66H1131.98H1159.3H1186.62H1213.94H1241.26H1268.58H1295.9H1323.22H1350.54V862H1377.86V890H1405.18H1432.5H1459.82H1487.14H1514.46H1541.78H1569.1H1596.42H1623.74H1651.06H1678.38H1705.7H1733.02H1760.34H1787.66H1814.98H1842.3H1869.62H1896.94H1924.26H1951.58H1978.9H2006.22H2033.54H2060.86H2074.52" stroke="#8a4c9c" stroke-width="2" fill="none"/>
<path d="M408 884.2H2074.52" stroke="#3276b3" stroke-width="1.8" fill="none"/>
<path d="M408 887.6H2074.52" stroke="#3276b3" stroke-width="1.8" fill="none"/>
<rect x="813.7" y="864.65" width="8.2" height="8.2" fill="none" stroke="#3276b3" stroke-width="1.4"/>
<rect x="1059.58" y="867.65" width="8.2" height="8.2" fill="none" stroke="#3276b3" stroke-width="1.4"/>
<rect x="1332.78" y="873.4" width="8.2" height="8.2" fill="none" stroke="#3276b3" stroke-width="1.4"/>
<rect x="1660.62" y="861.4" width="8.2" height="8.2" fill="none" stroke="#3276b3" stroke-width="1.4"/>
<path d="M408 850.4L413 859.1L403 859.1Z" fill="none" stroke="#da2038" stroke-width="1.4" stroke-linejoin="miter"/>
<path d="M462.64 866.65L467.64 875.35L457.64 875.35Z" fill="none" stroke="#da2038" stroke-width="1.4" stroke-linejoin="miter"/>
<path d="M927.08 867.15L932.08 875.85L922.08 875.85Z" fill="none" stroke="#da2038" stroke-width="1.4" stroke-linejoin="miter"/>
<path d="M981.72 872.9L986.72 881.6L976.72 881.6Z" fill="none" stroke="#da2038" stroke-width="1.4" stroke-linejoin="miter"/>
<path d="M1009.04 872.9L1014.04 881.6L1004.04 881.6Z" fill="none" stroke="#da2038" stroke-width="1.4" stroke-linejoin="miter"/>
<path d="M1118.32 872.9L1123.32 881.6L1113.32 881.6Z" fill="none" stroke="#da2038" stroke-width="1.4" stroke-linejoin="miter"/>
<path d="M1172.96 845.4L1177.96 854.1L1167.96 854.1Z" fill="none" stroke="#da2038" stroke-width="1.4" stroke-linejoin="miter"/>
<path d="M1309.56 867.15L1314.56 875.85L1304.56 875.85Z" fill="none" stroke="#da2038" stroke-width="1.4" stroke-linejoin="miter"/>
<path d="M1391.52 862.9L1396.52 871.6L1386.52 871.6Z" fill="none" stroke="#da2038" stroke-width="1.4" stroke-linejoin="miter"/>
<path d="M1500.8 839.15L1505.8 847.85L1495.8 847.85Z" fill="none" stroke="#da2038" stroke-width="1.4" stroke-linejoin="miter"/>
<path d="M1719.36 869.6L1724.36 878.3L1714.36 878.3Z" fill="none" stroke="#da2038" stroke-width="1.4" stroke-linejoin="miter"/>
<path d="M1774 867.1L1779 875.8L1769 875.8Z" fill="none" stroke="#da2038" stroke-width="1.4" stroke-linejoin="miter"/>
<path d="M1801.32 869.6L1806.32 878.3L1796.32 878.3Z" fill="none" stroke="#da2038" stroke-width="1.4" stroke-linejoin="miter"/>
<path d="M1855.96 867.1L1860.96 875.8L1850.96 875.8Z" fill="none" stroke="#da2038" stroke-width="1.4" stroke-linejoin="miter"/>
<rect x="403.9" y="857.9" width="8.2" height="8.2" fill="none" stroke="#da2038" stroke-width="1.4"/>
<rect x="458.54" y="861.65" width="8.2" height="8.2" fill="none" stroke="#da2038" stroke-width="1.4"/>
<rect x="1387.42" y="861.65" width="8.2" height="8.2" fill="none" stroke="#da2038" stroke-width="1.4"/>
<rect x="1797.22" y="871.9" width="8.2" height="8.2" fill="none" stroke="#da2038" stroke-width="1.4"/>
<rect x="1851.86" y="873.9" width="8.2" height="8.2" fill="none" stroke="#da2038" stroke-width="1.4"/>
<circle cx="845.12" cy="862" r="3.75" fill="none" stroke="#da2038" stroke-width="1.4"/>
<circle cx="1500.8" cy="878" r="3.75" fill="none" stroke="#da2038" stroke-width="1.4"/>
<circle cx="517.28" cy="825.5" r="3.75" fill="none" stroke="#41a04c" stroke-width="1.4"/>
<circle cx="681.2" cy="791.25" r="3.75" fill="none" stroke="#41a04c" stroke-width="1.4"/>
<circle cx="1145.64" cy="865.75" r="3.75" fill="none" stroke="#41a04c" stroke-width="1.4"/>
<circle cx="1227.6" cy="840.5" r="3.75" fill="none" stroke="#41a04c" stroke-width="1.4"/>
<circle cx="1282.24" cy="859.5" r="3.75" fill="none" stroke="#41a04c" stroke-width="1.4"/>
<circle cx="1418.84" cy="812.5" r="3.75" fill="none" stroke="#41a04c" stroke-width="1.4"/>
<circle cx="1610.08" cy="871.75" r="3.75" fill="none" stroke="#41a04c" stroke-width="1.4"/>
<circle cx="1937.92" cy="729.5" r="3.75" fill="none" stroke="#41a04c" stroke-width="1.4"/>
<circle cx="1965.24" cy="878" r="3.75" fill="none" stroke="#41a04c" stroke-width="1.4"/>
<path d="M489.96 855V869M482.96 862H496.96" fill="none" stroke="#8a4c9c" stroke-width="1.4"/>
<path d="M653.88 762.5V776.5M646.88 769.5H660.88" fill="none" stroke="#8a4c9c" stroke-width="1.4"/>
<path d="M1200.28 843V857M1193.28 850H1207.28" fill="none" stroke="#8a4c9c" stroke-width="1.4"/>
<path d="M1446.16 868V882M1439.16 875H1453.16" fill="none" stroke="#8a4c9c" stroke-width="1.4"/>
<path d="M1637.4 796.75V810.75M1630.4 803.75H1644.4" fill="none" stroke="#8a4c9c" stroke-width="1.4"/>
<path d="M1910.6 821.8V835.8M1903.6 828.8H1917.6" fill="none" stroke="#8a4c9c" stroke-width="1.4"/>
<circle cx="626.56" cy="874.5" r="3.75" fill="none" stroke="#8a4c9c" stroke-width="1.4"/>
<circle cx="1364.2" cy="862" r="3.75" fill="none" stroke="#8a4c9c" stroke-width="1.4"/>
<path d="M391.3 972.4V1185H2079.6" stroke="#000" stroke-width="2" fill="none"/>
<path d="M386.8 1152.9H391.3" stroke="#222" stroke-width="1.3" fill="none"/>
<text x="379" y="1157.7" font-size="30.5" text-anchor="end" fill="#1a1a1a">0%</text>
<path d="M386.8 1100.5H391.3" stroke="#222" stroke-width="1.3" fill="none"/>
<text x="379" y="1105.3" font-size="30.5" text-anchor="end" fill="#1a1a1a">1%</text>
<path d="M386.8 1048.2H391.3" stroke="#222" stroke-width="1.3" fill="none"/>
<text x="379" y="1053" font-size="30.5" text-anchor="end" fill="#1a1a1a">2%</text>
<path d="M386.8 995.8H391.3" stroke="#222" stroke-width="1.3" fill="none"/>
<text x="379" y="1000.6" font-size="30.5" text-anchor="end" fill="#1a1a1a">3%</text>
<path d="M809 1185V1187.5" stroke="#333" stroke-width="1.2" fill="none"/>
<text x="807.2" y="1207.2" font-size="17.8" text-anchor="middle" fill="#1a1a1a">30</text>
<path d="M1310.5 1185V1187.5" stroke="#333" stroke-width="1.2" fill="none"/>
<text x="1308.7" y="1207.2" font-size="17.8" text-anchor="middle" fill="#1a1a1a">40</text>
<path d="M1812 1185V1187.5" stroke="#333" stroke-width="1.2" fill="none"/>
<text x="1810.2" y="1207.2" font-size="17.8" text-anchor="middle" fill="#1a1a1a">50</text>
<text x="407.8" y="1177.2" font-size="22.5" text-anchor="middle" fill="#9e1a2e" font-weight="bold">C</text>
<text x="457.95" y="1177.2" font-size="22.5" text-anchor="middle" fill="#9e1a2e" font-weight="bold">G</text>
<text x="508.1" y="1177.2" font-size="22" text-anchor="middle" fill="#000">C</text>
<text x="558.25" y="1177.2" font-size="22.5" text-anchor="middle" fill="#9e1a2e" font-weight="bold">C</text>
<text x="608.4" y="1177.2" font-size="22.5" text-anchor="middle" fill="#9e1a2e" font-weight="bold">G</text>
<text x="658.55" y="1177.2" font-size="22" text-anchor="middle" fill="#000">A</text>
<text x="708.7" y="1177.2" font-size="22" text-anchor="middle" fill="#000">C</text>
<text x="758.85" y="1177.2" font-size="22" text-anchor="middle" fill="#000">C</text>
<text x="809" y="1177.2" font-size="22" text-anchor="middle" fill="#000">T</text>
<text x="859.15" y="1177.2" font-size="22" text-anchor="middle" fill="#000">A</text>
<text x="909.3" y="1177.2" font-size="22" text-anchor="middle" fill="#000">T</text>
<text x="959.45" y="1177.2" font-size="22" text-anchor="middle" fill="#000">C</text>
<text x="1009.6" y="1177.2" font-size="22" text-anchor="middle" fill="#000">C</text>
<text x="1059.75" y="1177.2" font-size="22" text-anchor="middle" fill="#000">T</text>
<text x="1109.9" y="1177.2" font-size="22" text-anchor="middle" fill="#000">T</text>
<text x="1160.05" y="1177.2" font-size="22" text-anchor="middle" fill="#000">A</text>
<text x="1210.2" y="1177.2" font-size="22" text-anchor="middle" fill="#000">C</text>
<text x="1260.35" y="1177.2" font-size="22" text-anchor="middle" fill="#000">C</text>
<text x="1310.5" y="1177.2" font-size="22" text-anchor="middle" fill="#000">A</text>
<text x="1360.65" y="1177.2" font-size="22" text-anchor="middle" fill="#000">T</text>
<text x="1410.8" y="1177.2" font-size="22" text-anchor="middle" fill="#000">C</text>
<text x="1460.95" y="1177.2" font-size="22" text-anchor="middle" fill="#000">A</text>
<text x="1511.1" y="1177.2" font-size="22" text-anchor="middle" fill="#000">T</text>
<text x="1561.25" y="1177.2" font-size="22" text-anchor="middle" fill="#000">C</text>
<text x="1611.4" y="1177.2" font-size="22" text-anchor="middle" fill="#000">A</text>
<text x="1661.55" y="1177.2" font-size="22" text-anchor="middle" fill="#000">C</text>
<text x="1711.7" y="1177.2" font-size="22" text-anchor="middle" fill="#000">A</text>
<text x="1761.85" y="1177.2" font-size="22" text-anchor="middle" fill="#000">C</text>
<text x="1812" y="1177.2" font-size="22" text-anchor="middle" fill="#000">T</text>
<text x="1862.15" y="1177.2" font-size="22" text-anchor="middle" fill="#000">G</text>
<text x="1912.3" y="1177.2" font-size="22" text-anchor="middle" fill="#000">G</text>
<text x="1962.45" y="1177.2" font-size="22" text-anchor="middle" fill="#000">A</text>
<text x="2012.6" y="1177.2" font-size="22" text-anchor="middle" fill="#000">A</text>
<text x="2062.75" y="1177.2" font-size="22" text-anchor="middle" fill="#000">G</text>
<text x="1162.8" y="1230.5" font-size="27.8" text-anchor="start" fill="#000">Read position (bp)</text>
<text x="786.8" y="1053.7" font-size="37" text-anchor="start" fill="#000">Total UMIs: 79515</text>
<text x="494.8" y="999.2" font-size="31" text-anchor="start" fill="#000">R245R246</text>
<path d="M408 1011.6H708.4" stroke="#000" stroke-width="2" fill="none"/>
<text x="0" y="0" font-size="34" fill="#000" transform="translate(320.3 1111.5) rotate(-90)">UMIs (%)</text>
<path d="M407.8 1151.3H432.88H483.02H533.18H583.33H633.48H683.62H733.78H783.93H834.08H884.23V1148.8H934.38V1151.3H984.53H1034.67H1084.83H1134.98H1185.12H1235.28H1285.42H1335.58H1385.73H1435.88H1486.02H1536.17H1586.33H1636.47H1686.62H1736.77H1786.92H1837.08H1887.22H1937.38H1987.52H2037.67H2062.75" stroke="#3276b3" stroke-width="2" fill="none"/>
<path d="M407.8 1151.3H432.88H483.02H533.18H583.33H633.48H683.62H733.78H783.93V1123.3H834.08V1151.3H884.23H934.38H984.53H1034.67V1143.9H1084.83V1143.3H1134.98V1151.3H1185.12H1235.28H1285.42H1335.58V1137.1H1385.73V1151.3H1435.88H1486.02V1136.1H1536.17V1151.3H1586.33H1636.47H1686.62H1736.77H1786.92V1135H1837.08V1151.3H1887.22H1937.38H1987.52H2037.67H2062.75" stroke="#3276b3" stroke-width="2" fill="none"/>
<path d="M407.8 1151.3H432.88H483.02H533.18H583.33H633.48H683.62H733.78H783.93V1145H834.08V1151.3H884.23H934.38H984.53H1034.67H1084.83H1134.98H1185.12H1235.28H1285.42H1335.58H1385.73H1435.88H1486.02V1144.7H1536.17V1151.3H1586.33H1636.47H1686.62H1736.77H1786.92V1147H1837.08V1151.3H1887.22H1937.38H1987.52H2037.67H2062.75" stroke="#3276b3" stroke-width="2" fill="none"/>
<path d="M407.8 1151.3H432.88H483.02H533.18H583.33H633.48V1147.8H683.62V1151.3H733.78H783.93H834.08V1148H884.23V1151.3H934.38H984.53H1034.67H1084.83H1134.98H1185.12H1235.28H1285.42H1335.58H1385.73H1435.88H1486.02H1536.17H1586.33H1636.47H1686.62V1147H1736.77V1151.3H1786.92H1837.08H1887.22H1937.38H1987.52H2037.67H2062.75" stroke="#da2038" stroke-width="2" fill="none"/>
<path d="M407.8 1151.3H432.88H483.02H533.18H583.33H633.48H683.62H733.78H783.93H834.08H884.23H934.38H984.53H1034.67H1084.83H1134.98V1145.4H1185.12V1151.3H1235.28H1285.42V1145.4H1335.58V1151.3H1385.73H1435.88V1146.4H1486.02V1151.3H1536.17H1586.33V1145.4H1636.47V1151.3H1686.62H1736.77H1786.92H1837.08H1887.22H1937.38V1137.8H1987.52V1137.4H2037.67V1151.3H2062.75" stroke="#da2038" stroke-width="2" fill="none"/>
<path d="M407.8 1151.3H432.88H483.02H533.18H583.33H633.48H683.62H733.78H783.93H834.08H884.23H934.38H984.53H1034.67H1084.83H1134.98H1185.12H1235.28H1285.42H1335.58H1385.73H1435.88H1486.02H1536.17H1586.33H1636.47H1686.62H1736.77H1786.92H1837.08H1887.22H1937.38H1987.52V1145.4H2037.67V1151.3H2062.75" stroke="#da2038" stroke-width="2" fill="none"/>
<path d="M407.8 1151.3H432.88H483.02H533.18H583.33H633.48H683.62H733.78H783.93H834.08H884.23H934.38H984.53H1034.67H1084.83H1134.98H1185.12V1147.2H1235.28V1151.3H1285.42H1335.58H1385.73H1435.88H1486.02H1536.17V1147.1H1586.33V1151.3H1636.47V1147.5H1686.62V1151.3H1736.77V1147.5H1786.92V1151.3H1837.08H1887.22H1937.38H1987.52H2037.67H2062.75" stroke="#41a04c" stroke-width="2" fill="none"/>
<path d="M407.8 1143.5H432.88V1151.3H483.02V1141.9H533.18V1135.3H583.33V1151.3H633.48H683.62V1146.1H733.78V1151.3H783.93H834.08H884.23H934.38H984.53H1034.67H1084.83H1134.98H1185.12H1235.28H1285.42H1335.58H1385.73H1435.88H1486.02H1536.17H1586.33H1636.47H1686.62H1736.77H1786.92H1837.08H1887.22H1937.38H1987.52H2037.67H2062.75" stroke="#41a04c" stroke-width="2" fill="none"/>
<path d="M407.8 1151.3H432.88H483.02H533.18H583.33H633.48H683.62H733.78V1111.2H783.93V1151.3H834.08H884.23H934.38H984.53H1034.67H1084.83H1134.98H1185.12H1235.28H1285.42H1335.58H1385.73H1435.88H1486.02H1536.17H1586.33H1636.47H1686.62H1736.77H1786.92H1837.08H1887.22H1937.38H1987.52H2037.67H2062.75" stroke="#41a04c" stroke-width="2" fill="none"/>
<path d="M407.8 1151.3H432.88H483.02H533.18H583.33H633.48H683.62H733.78H783.93H834.08H884.23H934.38H984.53H1034.67H1084.83H1134.98H1185.12H1235.28H1285.42H1335.58H1385.73H1435.88H1486.02H1536.17H1586.33H1636.47H1686.62H1736.77H1786.92H1837.08V1148.8H1887.22V1151.3H1937.38H1987.52H2037.67H2062.75" stroke="#8a4c9c" stroke-width="2" fill="none"/>
<path d="M407.8 1151.3H432.88V1030.2H483.02V1151.3H533.18H583.33V1139H633.48V1151.3H683.62H733.78H783.93H834.08H884.23H934.38H984.53H1034.67H1084.83H1134.98H1185.12H1235.28H1285.42H1335.58H1385.73H1435.88H1486.02H1536.17H1586.33H1636.47H1686.62H1736.77H1786.92H1837.08H1887.22V1143H1937.38V1151.3H1987.52H2037.67H2062.75" stroke="#8a4c9c" stroke-width="2" fill="none"/>
<path d="M407.8 1153.1H2062.75" stroke="#3276b3" stroke-width="1.8" fill="none"/>
<rect x="804.9" y="1119.2" width="8.2" height="8.2" fill="none" stroke="#3276b3" stroke-width="1.4"/>
<rect x="1055.65" y="1139.8" width="8.2" height="8.2" fill="none" stroke="#3276b3" stroke-width="1.4"/>
<rect x="1105.8" y="1139.2" width="8.2" height="8.2" fill="none" stroke="#3276b3" stroke-width="1.4"/>
<rect x="1356.55" y="1133" width="8.2" height="8.2" fill="none" stroke="#3276b3" stroke-width="1.4"/>
<rect x="1507" y="1132" width="8.2" height="8.2" fill="none" stroke="#3276b3" stroke-width="1.4"/>
<rect x="1807.9" y="1130.9" width="8.2" height="8.2" fill="none" stroke="#3276b3" stroke-width="1.4"/>
<path d="M809 1138V1152M802 1145H816" fill="none" stroke="#3276b3" stroke-width="1.4"/>
<path d="M1511.1 1137.7V1151.7M1504.1 1144.7H1518.1" fill="none" stroke="#3276b3" stroke-width="1.4"/>
<path d="M1812 1140V1154M1805 1147H1819" fill="none" stroke="#3276b3" stroke-width="1.4"/>
<path d="M1160.05 1140.8L1165.05 1149.5L1155.05 1149.5Z" fill="none" stroke="#da2038" stroke-width="1.4" stroke-linejoin="miter"/>
<path d="M1310.5 1140.8L1315.5 1149.5L1305.5 1149.5Z" fill="none" stroke="#da2038" stroke-width="1.4" stroke-linejoin="miter"/>
<path d="M1460.95 1141.8L1465.95 1150.5L1455.95 1150.5Z" fill="none" stroke="#da2038" stroke-width="1.4" stroke-linejoin="miter"/>
<path d="M1611.4 1140.8L1616.4 1149.5L1606.4 1149.5Z" fill="none" stroke="#da2038" stroke-width="1.4" stroke-linejoin="miter"/>
<path d="M1962.45 1133.2L1967.45 1141.9L1957.45 1141.9Z" fill="none" stroke="#da2038" stroke-width="1.4" stroke-linejoin="miter"/>
<path d="M2012.6 1132.8L2017.6 1141.5L2007.6 1141.5Z" fill="none" stroke="#da2038" stroke-width="1.4" stroke-linejoin="miter"/>
<circle cx="2012.6" cy="1145.4" r="3.75" fill="none" stroke="#da2038" stroke-width="1.4"/>
<circle cx="407.8" cy="1143.5" r="3.75" fill="none" stroke="#41a04c" stroke-width="1.4"/>
<circle cx="508.1" cy="1141.9" r="3.75" fill="none" stroke="#41a04c" stroke-width="1.4"/>
<circle cx="558.25" cy="1135.3" r="3.75" fill="none" stroke="#41a04c" stroke-width="1.4"/>
<circle cx="708.7" cy="1146.1" r="3.75" fill="none" stroke="#41a04c" stroke-width="1.4"/>
<path d="M758.85 1104.2V1118.2M751.85 1111.2H765.85" fill="none" stroke="#41a04c" stroke-width="1.4"/>
<path d="M457.95 1023.2V1037.2M450.95 1030.2H464.95" fill="none" stroke="#8a4c9c" stroke-width="1.4"/>
<path d="M608.4 1132V1146M601.4 1139H615.4" fill="none" stroke="#8a4c9c" stroke-width="1.4"/>
<path d="M1912.3 1136V1150M1905.3 1143H1919.3" fill="none" stroke="#8a4c9c" stroke-width="1.4"/>
<path d="M391.8 1237.4V1450.1H2079.6" stroke="#000" stroke-width="2" fill="none"/>
<path d="M387.3 1417.7H391.8" stroke="#222" stroke-width="1.3" fill="none"/>
<text x="379.5" y="1422.5" font-size="30.5" text-anchor="end" fill="#1a1a1a">0%</text>
<path d="M387.3 1365.5H391.8" stroke="#222" stroke-width="1.3" fill="none"/>
<text x="379.5" y="1370.3" font-size="30.5" text-anchor="end" fill="#1a1a1a">1%</text>
<path d="M387.3 1313.6H391.8" stroke="#222" stroke-width="1.3" fill="none"/>
<text x="379.5" y="1318.4" font-size="30.5" text-anchor="end" fill="#1a1a1a">2%</text>
<path d="M387.3 1260.8H391.8" stroke="#222" stroke-width="1.3" fill="none"/>
<text x="379.5" y="1265.6" font-size="30.5" text-anchor="end" fill="#1a1a1a">3%</text>
<path d="M809 1450.1V1452.6" stroke="#333" stroke-width="1.2" fill="none"/>
<text x="807.2" y="1471.8" font-size="17.8" text-anchor="middle" fill="#1a1a1a">30</text>
<path d="M1310.5 1450.1V1452.6" stroke="#333" stroke-width="1.2" fill="none"/>
<text x="1308.7" y="1471.8" font-size="17.8" text-anchor="middle" fill="#1a1a1a">40</text>
<path d="M1812 1450.1V1452.6" stroke="#333" stroke-width="1.2" fill="none"/>
<text x="1810.2" y="1471.8" font-size="17.8" text-anchor="middle" fill="#1a1a1a">50</text>
<text x="407.8" y="1442.3" font-size="22" text-anchor="middle" fill="#000">A</text>
<text x="457.95" y="1442.3" font-size="22" text-anchor="middle" fill="#000">G</text>
<text x="508.1" y="1442.3" font-size="22" text-anchor="middle" fill="#000">A</text>
<text x="558.25" y="1442.3" font-size="22" text-anchor="middle" fill="#000">A</text>
<text x="608.4" y="1442.3" font-size="22" text-anchor="middle" fill="#000">G</text>
<text x="658.55" y="1442.3" font-size="22" text-anchor="middle" fill="#000">A</text>
<text x="708.7" y="1442.3" font-size="22" text-anchor="middle" fill="#000">C</text>
<text x="758.85" y="1442.3" font-size="22" text-anchor="middle" fill="#000">C</text>
<text x="809" y="1442.3" font-size="22" text-anchor="middle" fill="#000">T</text>
<text x="859.15" y="1442.3" font-size="22" text-anchor="middle" fill="#000">A</text>
<text x="909.3" y="1442.3" font-size="22" text-anchor="middle" fill="#000">T</text>
<text x="959.45" y="1442.3" font-size="22" text-anchor="middle" fill="#000">C</text>
<text x="1009.6" y="1442.3" font-size="22" text-anchor="middle" fill="#000">C</text>
<text x="1059.75" y="1442.3" font-size="22" text-anchor="middle" fill="#000">T</text>
<text x="1109.9" y="1442.3" font-size="22" text-anchor="middle" fill="#000">T</text>
<text x="1160.05" y="1442.3" font-size="22" text-anchor="middle" fill="#000">A</text>
<text x="1210.2" y="1442.3" font-size="22" text-anchor="middle" fill="#000">C</text>
<text x="1260.35" y="1442.3" font-size="22" text-anchor="middle" fill="#000">C</text>
<text x="1310.5" y="1442.3" font-size="22" text-anchor="middle" fill="#000">A</text>
<text x="1360.65" y="1442.3" font-size="22" text-anchor="middle" fill="#000">T</text>
<text x="1410.8" y="1442.3" font-size="22" text-anchor="middle" fill="#000">C</text>
<text x="1460.95" y="1442.3" font-size="22" text-anchor="middle" fill="#000">A</text>
<text x="1511.1" y="1442.3" font-size="22" text-anchor="middle" fill="#000">T</text>
<text x="1561.25" y="1442.3" font-size="22" text-anchor="middle" fill="#000">C</text>
<text x="1611.4" y="1442.3" font-size="22" text-anchor="middle" fill="#000">A</text>
<text x="1661.55" y="1442.3" font-size="22" text-anchor="middle" fill="#000">C</text>
<text x="1711.7" y="1442.3" font-size="22" text-anchor="middle" fill="#000">A</text>
<text x="1761.85" y="1442.3" font-size="22" text-anchor="middle" fill="#000">C</text>
<text x="1812" y="1442.3" font-size="22" text-anchor="middle" fill="#000">T</text>
<text x="1862.15" y="1442.3" font-size="22" text-anchor="middle" fill="#000">G</text>
<text x="1912.3" y="1442.3" font-size="22" text-anchor="middle" fill="#000">G</text>
<text x="1962.45" y="1442.3" font-size="22" text-anchor="middle" fill="#000">A</text>
<text x="2012.6" y="1442.3" font-size="22" text-anchor="middle" fill="#000">A</text>
<text x="2062.75" y="1442.3" font-size="22" text-anchor="middle" fill="#000">G</text>
<text x="1162.9" y="1497" font-size="27.8" text-anchor="start" fill="#000">Read position (bp)</text>
<text x="786.8" y="1330" font-size="37" text-anchor="start" fill="#000">Total UMIs: 223061</text>
<text x="495.3" y="1264.2" font-size="31" text-anchor="start" fill="#000">R245R246</text>
<path d="M408.5 1276.1H709.1" stroke="#000" stroke-width="2" fill="none"/>
<text x="0" y="0" font-size="34" fill="#000" transform="translate(320.3 1377.6) rotate(-90)">UMIs (%)</text>
<path d="M407.8 1416.7H432.88H483.02H533.18H583.33H633.48H683.62H733.78H783.93H834.08H884.23H934.38H984.53H1034.67H1084.83H1134.98H1185.12H1235.28H1285.42H1335.58H1385.73H1435.88H1486.02H1536.17H1586.33H1636.47H1686.62H1736.77H1786.92H1837.08H1887.22H1937.38H1987.52H2037.67H2062.75" stroke="#3276b3" stroke-width="2" fill="none"/>
<path d="M407.8 1416.7H432.88H483.02H533.18H583.33H633.48H683.62H733.78H783.93V1406.8H834.08V1416.7H884.23V1416.5H934.38V1416.7H984.53H1034.67V1415.6H1084.83V1414.3H1134.98V1416.7H1185.12H1235.28H1285.42H1335.58V1411.7H1385.73V1416.7H1435.88H1486.02V1411H1536.17V1416.7H1586.33H1636.47H1686.62H1736.77H1786.92V1413H1837.08V1416.7H1887.22H1937.38H1987.52H2037.67H2062.75" stroke="#3276b3" stroke-width="2" fill="none"/>
<path d="M407.8 1416.7H432.88H483.02H533.18H583.33H633.48H683.62H733.78H783.93V1416H834.08V1416.7H884.23H934.38H984.53H1034.67H1084.83H1134.98H1185.12H1235.28H1285.42H1335.58H1385.73H1435.88H1486.02H1536.17H1586.33H1636.47H1686.62H1736.77H1786.92H1837.08H1887.22H1937.38H1987.52H2037.67H2062.75" stroke="#3276b3" stroke-width="2" fill="none"/>
<path d="M407.8 1416.7H432.88H483.02H533.18H583.33H633.48H683.62H733.78H783.93H834.08H884.23H934.38H984.53H1034.67H1084.83H1134.98H1185.12H1235.28H1285.42H1335.58H1385.73H1435.88H1486.02H1536.17H1586.33H1636.47H1686.62H1736.77H1786.92H1837.08H1887.22H1937.38H1987.52H2037.67H2062.75" stroke="#da2038" stroke-width="2" fill="none"/>
<path d="M407.8 1414.3H432.88V1416.7H483.02V1413.4H533.18V1412.1H583.33V1416.7H633.48V1414.3H683.62V1416.7H733.78H783.93H834.08V1414.3H884.23V1416.7H934.38H984.53H1034.67H1084.83H1134.98V1414.3H1185.12V1416.7H1235.28H1285.42V1413H1335.58V1416.7H1385.73H1435.88V1413H1486.02V1416.7H1536.17H1586.33V1413H1636.47V1416.7H1686.62V1413H1736.77V1416.7H1786.92H1837.08H1887.22H1937.38V1410.8H1987.52V1411H2037.67V1416.7H2062.75" stroke="#da2038" stroke-width="2" fill="none"/>
<path d="M407.8 1415H432.88V1416.7H483.02V1415H533.18H583.33V1416.7H633.48H683.62H733.78H783.93H834.08H884.23H934.38H984.53H1034.67H1084.83H1134.98H1185.12H1235.28H1285.42V1415H1335.58V1416.7H1385.73H1435.88H1486.02H1536.17H1586.33H1636.47H1686.62H1736.77H1786.92H1837.08H1887.22H1937.38H1987.52H2037.67H2062.75" stroke="#da2038" stroke-width="2" fill="none"/>
<path d="M407.8 1416.7H432.88H483.02H533.18H583.33H633.48V1416H683.62V1416.7H733.78H783.93H834.08H884.23H934.38H984.53H1034.67H1084.83H1134.98H1185.12H1235.28H1285.42H1335.58H1385.73H1435.88H1486.02H1536.17H1586.33H1636.47H1686.62H1736.77H1786.92H1837.08H1887.22H1937.38V1415H1987.52V1416.7H2037.67H2062.75" stroke="#da2038" stroke-width="2" fill="none"/>
<path d="M407.8 1416.7H432.88H483.02H533.18H583.33H633.48H683.62H733.78H783.93H834.08H884.23H934.38H984.53H1034.67H1084.83H1134.98H1185.12H1235.28H1285.42H1335.58H1385.73H1435.88H1486.02H1536.17H1586.33H1636.47H1686.62H1736.77H1786.92H1837.08H1887.22H1937.38H1987.52H2037.67H2062.75" stroke="#41a04c" stroke-width="2" fill="none"/>
<path d="M407.8 1416.7H432.88H483.02H533.18H583.33H633.48H683.62V1415.6H733.78H783.93V1416.7H834.08H884.23H934.38V1416H984.53V1416.7H1034.67H1084.83H1134.98H1185.12V1415.6H1235.28V1416H1285.42V1416.7H1335.58H1385.73V1416H1435.88V1416.7H1486.02H1536.17V1416H1586.33V1416.7H1636.47V1416H1686.62V1416.7H1736.77V1416H1786.92V1416.7H1837.08H1887.22H1937.38H1987.52H2037.67H2062.75" stroke="#41a04c" stroke-width="2" fill="none"/>
<path d="M407.8 1416.7H432.88H483.02H533.18H583.33H633.48H683.62H733.78V1405.5H783.93V1416.7H834.08H884.23H934.38H984.53V1416H1034.67V1416.7H1084.83H1134.98H1185.12H1235.28H1285.42H1335.58H1385.73H1435.88H1486.02H1536.17H1586.33H1636.47H1686.62H1736.77H1786.92H1837.08H1887.22H1937.38H1987.52H2037.67H2062.75" stroke="#41a04c" stroke-width="2" fill="none"/>
<path d="M407.8 1416.7H432.88H483.02H533.18H583.33H633.48H683.62H733.78H783.93H834.08H884.23H934.38H984.53H1034.67H1084.83H1134.98H1185.12H1235.28H1285.42H1335.58H1385.73H1435.88H1486.02H1536.17H1586.33H1636.47H1686.62H1736.77H1786.92H1837.08H1887.22H1937.38H1987.52H2037.67H2062.75" stroke="#8a4c9c" stroke-width="2" fill="none"/>
<path d="M407.8 1416.7H432.88V1416H483.02V1416.7H533.18H583.33H633.48H683.62H733.78H783.93H834.08H884.23H934.38H984.53H1034.67H1084.83H1134.98H1185.12H1235.28H1285.42H1335.58H1385.73H1435.88H1486.02H1536.17H1586.33H1636.47H1686.62H1736.77H1786.92H1837.08V1416H1887.22H1937.38V1416.7H1987.52H2037.67V1416H2062.75" stroke="#8a4c9c" stroke-width="2" fill="none"/>
<path d="M407.8 1416.7H432.88H483.02H533.18H583.33H633.48H683.62H733.78H783.93H834.08H884.23H934.38H984.53H1034.67H1084.83H1134.98H1185.12H1235.28H1285.42H1335.58H1385.73H1435.88H1486.02H1536.17H1586.33H1636.47H1686.62H1736.77H1786.92H1837.08H1887.22V1416H1937.38V1416.7H1987.52H2037.67H2062.75" stroke="#8a4c9c" stroke-width="2" fill="none"/>
<path d="M407.8 1417.7H2062.75" stroke="#3276b3" stroke-width="1.8" fill="none"/>
<rect x="804.9" y="1402.7" width="8.2" height="8.2" fill="none" stroke="#3276b3" stroke-width="1.4"/>
<rect x="905.2" y="1412.4" width="8.2" height="8.2" fill="none" stroke="#3276b3" stroke-width="1.4"/>
<rect x="1055.65" y="1411.5" width="8.2" height="8.2" fill="none" stroke="#3276b3" stroke-width="1.4"/>
<rect x="1105.8" y="1410.2" width="8.2" height="8.2" fill="none" stroke="#3276b3" stroke-width="1.4"/>
<rect x="1356.55" y="1407.6" width="8.2" height="8.2" fill="none" stroke="#3276b3" stroke-width="1.4"/>
<rect x="1507" y="1406.9" width="8.2" height="8.2" fill="none" stroke="#3276b3" stroke-width="1.4"/>
<rect x="1807.9" y="1408.9" width="8.2" height="8.2" fill="none" stroke="#3276b3" stroke-width="1.4"/>
<path d="M809 1409V1423M802 1416H816" fill="none" stroke="#3276b3" stroke-width="1.4"/>
<path d="M407.8 1409.7L412.8 1418.4L402.8 1418.4Z" fill="none" stroke="#da2038" stroke-width="1.4" stroke-linejoin="miter"/>
<path d="M508.1 1408.8L513.1 1417.5L503.1 1417.5Z" fill="none" stroke="#da2038" stroke-width="1.4" stroke-linejoin="miter"/>
<path d="M558.25 1407.5L563.25 1416.2L553.25 1416.2Z" fill="none" stroke="#da2038" stroke-width="1.4" stroke-linejoin="miter"/>
<path d="M658.55 1409.7L663.55 1418.4L653.55 1418.4Z" fill="none" stroke="#da2038" stroke-width="1.4" stroke-linejoin="miter"/>
<path d="M859.15 1409.7L864.15 1418.4L854.15 1418.4Z" fill="none" stroke="#da2038" stroke-width="1.4" stroke-linejoin="miter"/>
<path d="M1160.05 1409.7L1165.05 1418.4L1155.05 1418.4Z" fill="none" stroke="#da2038" stroke-width="1.4" stroke-linejoin="miter"/>
<path d="M1310.5 1408.4L1315.5 1417.1L1305.5 1417.1Z" fill="none" stroke="#da2038" stroke-width="1.4" stroke-linejoin="miter"/>
<path d="M1460.95 1408.4L1465.95 1417.1L1455.95 1417.1Z" fill="none" stroke="#da2038" stroke-width="1.4" stroke-linejoin="miter"/>
<path d="M1611.4 1408.4L1616.4 1417.1L1606.4 1417.1Z" fill="none" stroke="#da2038" stroke-width="1.4" stroke-linejoin="miter"/>
<path d="M1711.7 1408.4L1716.7 1417.1L1706.7 1417.1Z" fill="none" stroke="#da2038" stroke-width="1.4" stroke-linejoin="miter"/>
<path d="M1962.45 1406.2L1967.45 1414.9L1957.45 1414.9Z" fill="none" stroke="#da2038" stroke-width="1.4" stroke-linejoin="miter"/>
<path d="M2012.6 1406.4L2017.6 1415.1L2007.6 1415.1Z" fill="none" stroke="#da2038" stroke-width="1.4" stroke-linejoin="miter"/>
<rect x="403.7" y="1410.9" width="8.2" height="8.2" fill="none" stroke="#da2038" stroke-width="1.4"/>
<rect x="504" y="1410.9" width="8.2" height="8.2" fill="none" stroke="#da2038" stroke-width="1.4"/>
<rect x="554.15" y="1410.9" width="8.2" height="8.2" fill="none" stroke="#da2038" stroke-width="1.4"/>
<rect x="1306.4" y="1410.9" width="8.2" height="8.2" fill="none" stroke="#da2038" stroke-width="1.4"/>
<circle cx="658.55" cy="1416" r="3.75" fill="none" stroke="#da2038" stroke-width="1.4"/>
<circle cx="1962.45" cy="1415" r="3.75" fill="none" stroke="#da2038" stroke-width="1.4"/>
<circle cx="708.7" cy="1415.6" r="3.75" fill="none" stroke="#41a04c" stroke-width="1.4"/>
<circle cx="758.85" cy="1415.6" r="3.75" fill="none" stroke="#41a04c" stroke-width="1.4"/>
<circle cx="959.45" cy="1416" r="3.75" fill="none" stroke="#41a04c" stroke-width="1.4"/>
<circle cx="1210.2" cy="1415.6" r="3.75" fill="none" stroke="#41a04c" stroke-width="1.4"/>
<circle cx="1260.35" cy="1416" r="3.75" fill="none" stroke="#41a04c" stroke-width="1.4"/>
<circle cx="1410.8" cy="1416" r="3.75" fill="none" stroke="#41a04c" stroke-width="1.4"/>
<circle cx="1561.25" cy="1416" r="3.75" fill="none" stroke="#41a04c" stroke-width="1.4"/>
<circle cx="1661.55" cy="1416" r="3.75" fill="none" stroke="#41a04c" stroke-width="1.4"/>
<circle cx="1761.85" cy="1416" r="3.75" fill="none" stroke="#41a04c" stroke-width="1.4"/>
<path d="M758.85 1398.5V1412.5M751.85 1405.5H765.85" fill="none" stroke="#41a04c" stroke-width="1.4"/>
<path d="M1009.6 1409V1423M1002.6 1416H1016.6" fill="none" stroke="#41a04c" stroke-width="1.4"/>
<path d="M457.95 1409V1423M450.95 1416H464.95" fill="none" stroke="#8a4c9c" stroke-width="1.4"/>
<path d="M1862.15 1409V1423M1855.15 1416H1869.15" fill="none" stroke="#8a4c9c" stroke-width="1.4"/>
<path d="M1912.3 1409V1423M1905.3 1416H1919.3" fill="none" stroke="#8a4c9c" stroke-width="1.4"/>
<path d="M2062.75 1409V1423M2055.75 1416H2069.75" fill="none" stroke="#8a4c9c" stroke-width="1.4"/>
<circle cx="1912.3" cy="1416" r="3.75" fill="none" stroke="#8a4c9c" stroke-width="1.4"/>
<path d="M392.8 1516.6V1729.7H2093" stroke="#000" stroke-width="2" fill="none"/>
<path d="M388.3 1698.2H392.8" stroke="#222" stroke-width="1.3" fill="none"/>
<text x="380.5" y="1703" font-size="30.5" text-anchor="end" fill="#1a1a1a">0%</text>
<path d="M388.3 1646.8H392.8" stroke="#222" stroke-width="1.3" fill="none"/>
<text x="380.5" y="1651.6" font-size="30.5" text-anchor="end" fill="#1a1a1a">1%</text>
<path d="M388.3 1595.4H392.8" stroke="#222" stroke-width="1.3" fill="none"/>
<text x="380.5" y="1600.2" font-size="30.5" text-anchor="end" fill="#1a1a1a">2%</text>
<path d="M388.3 1543.9H392.8" stroke="#222" stroke-width="1.3" fill="none"/>
<text x="380.5" y="1548.7" font-size="30.5" text-anchor="end" fill="#1a1a1a">3%</text>
<path d="M727.4 1729.7V1732.2" stroke="#333" stroke-width="1.2" fill="none"/>
<text x="727.4" y="1752.4" font-size="17.8" text-anchor="middle" fill="#1a1a1a">40</text>
<path d="M1124 1729.7V1732.2" stroke="#333" stroke-width="1.2" fill="none"/>
<text x="1124" y="1752.4" font-size="17.8" text-anchor="middle" fill="#1a1a1a">60</text>
<path d="M1520.6 1729.7V1732.2" stroke="#333" stroke-width="1.2" fill="none"/>
<text x="1520.6" y="1752.4" font-size="17.8" text-anchor="middle" fill="#1a1a1a">80</text>
<path d="M1917.2 1729.7V1732.2" stroke="#333" stroke-width="1.2" fill="none"/>
<text x="1917.2" y="1752.4" font-size="17.8" text-anchor="middle" fill="#1a1a1a">100</text>
<text x="410.12" y="1722.4" font-size="22" text-anchor="middle" fill="#000">C</text>
<text x="429.95" y="1722.4" font-size="22" text-anchor="middle" fill="#000">C</text>
<text x="449.78" y="1722.4" font-size="22" text-anchor="middle" fill="#000">T</text>
<text x="469.61" y="1722.4" font-size="22" text-anchor="middle" fill="#000">T</text>
<text x="489.44" y="1722.4" font-size="22" text-anchor="middle" fill="#000">T</text>
<text x="509.27" y="1722.4" font-size="22" text-anchor="middle" fill="#000">T</text>
<text x="529.1" y="1722.4" font-size="22" text-anchor="middle" fill="#000">C</text>
<text x="548.93" y="1722.4" font-size="22" text-anchor="middle" fill="#000">T</text>
<text x="568.76" y="1722.4" font-size="22" text-anchor="middle" fill="#000">T</text>
<text x="588.59" y="1722.4" font-size="22" text-anchor="middle" fill="#000">G</text>
<text x="608.42" y="1722.4" font-size="22" text-anchor="middle" fill="#000">T</text>
<text x="628.25" y="1722.4" font-size="22" text-anchor="middle" fill="#000">C</text>
<text x="648.08" y="1722.4" font-size="22" text-anchor="middle" fill="#000">C</text>
<text x="667.91" y="1722.4" font-size="22.5" text-anchor="middle" fill="#9e1a2e" font-weight="bold">C</text>
<text x="687.74" y="1722.4" font-size="22.5" text-anchor="middle" fill="#9e1a2e" font-weight="bold">G</text>
<text x="707.57" y="1722.4" font-size="22" text-anchor="middle" fill="#000">G</text>
<text x="727.4" y="1722.4" font-size="22" text-anchor="middle" fill="#000">A</text>
<text x="747.23" y="1722.4" font-size="22" text-anchor="middle" fill="#000">T</text>
<text x="767.06" y="1722.4" font-size="22" text-anchor="middle" fill="#000">A</text>
<text x="786.89" y="1722.4" font-size="22" text-anchor="middle" fill="#000">G</text>
<text x="806.72" y="1722.4" font-size="22" text-anchor="middle" fill="#000">T</text>
<text x="826.55" y="1722.4" font-size="22" text-anchor="middle" fill="#000">G</text>
<text x="846.38" y="1722.4" font-size="22" text-anchor="middle" fill="#000">G</text>
<text x="866.21" y="1722.4" font-size="22" text-anchor="middle" fill="#000">G</text>
<text x="886.04" y="1722.4" font-size="22" text-anchor="middle" fill="#000">A</text>
<text x="905.87" y="1722.4" font-size="22" text-anchor="middle" fill="#000">A</text>
<text x="925.7" y="1722.4" font-size="22" text-anchor="middle" fill="#000">C</text>
<text x="945.53" y="1722.4" font-size="22" text-anchor="middle" fill="#000">C</text>
<text x="965.36" y="1722.4" font-size="22" text-anchor="middle" fill="#000">T</text>
<text x="985.19" y="1722.4" font-size="22" text-anchor="middle" fill="#000">T</text>
<text x="1005.02" y="1722.4" font-size="22" text-anchor="middle" fill="#000">C</text>
<text x="1024.85" y="1722.4" font-size="22" text-anchor="middle" fill="#000">T</text>
<text x="1044.68" y="1722.4" font-size="22" text-anchor="middle" fill="#000">G</text>
<text x="1064.51" y="1722.4" font-size="22" text-anchor="middle" fill="#000">G</text>
<text x="1084.34" y="1722.4" font-size="22" text-anchor="middle" fill="#000">G</text>
<text x="1104.17" y="1722.4" font-size="22" text-anchor="middle" fill="#000">A</text>
<text x="1124" y="1722.4" font-size="22.5" text-anchor="middle" fill="#9e1a2e" font-weight="bold">C</text>
<text x="1143.83" y="1722.4" font-size="22.5" text-anchor="middle" fill="#9e1a2e" font-weight="bold">G</text>
<text x="1163.66" y="1722.4" font-size="22" text-anchor="middle" fill="#000">G</text>
<text x="1183.49" y="1722.4" font-size="22" text-anchor="middle" fill="#000">G</text>
<text x="1203.32" y="1722.4" font-size="22" text-anchor="middle" fill="#000">A</text>
<text x="1223.15" y="1722.4" font-size="22" text-anchor="middle" fill="#000">C</text>
<text x="1242.98" y="1722.4" font-size="22" text-anchor="middle" fill="#000">A</text>
<text x="1262.81" y="1722.4" font-size="22" text-anchor="middle" fill="#000">G</text>
<text x="1282.64" y="1722.4" font-size="22" text-anchor="middle" fill="#000">C</text>
<text x="1302.47" y="1722.4" font-size="22" text-anchor="middle" fill="#000">T</text>
<text x="1322.3" y="1722.4" font-size="22" text-anchor="middle" fill="#000">T</text>
<text x="1342.13" y="1722.4" font-size="22" text-anchor="middle" fill="#000">T</text>
<text x="1361.96" y="1722.4" font-size="22" text-anchor="middle" fill="#000">G</text>
<text x="1381.79" y="1722.4" font-size="22" text-anchor="middle" fill="#000">A</text>
<text x="1401.62" y="1722.4" font-size="22" text-anchor="middle" fill="#000">G</text>
<text x="1421.45" y="1722.4" font-size="22" text-anchor="middle" fill="#000">G</text>
<text x="1441.28" y="1722.4" font-size="22" text-anchor="middle" fill="#000">T</text>
<text x="1461.11" y="1722.4" font-size="22" text-anchor="middle" fill="#000">T</text>
<text x="1480.94" y="1722.4" font-size="22.5" text-anchor="middle" fill="#9e1a2e" font-weight="bold">C</text>
<text x="1500.77" y="1722.4" font-size="22.5" text-anchor="middle" fill="#9e1a2e" font-weight="bold">G</text>
<text x="1520.6" y="1722.4" font-size="22" text-anchor="middle" fill="#000">T</text>
<text x="1540.43" y="1722.4" font-size="22" text-anchor="middle" fill="#000">G</text>
<text x="1560.26" y="1722.4" font-size="22" text-anchor="middle" fill="#000">T</text>
<text x="1580.09" y="1722.4" font-size="22" text-anchor="middle" fill="#000">T</text>
<text x="1599.92" y="1722.4" font-size="22" text-anchor="middle" fill="#000">T</text>
<text x="1619.75" y="1722.4" font-size="22" text-anchor="middle" fill="#000">G</text>
<text x="1639.58" y="1722.4" font-size="22" text-anchor="middle" fill="#000">T</text>
<text x="1659.41" y="1722.4" font-size="22" text-anchor="middle" fill="#000">G</text>
<text x="1679.24" y="1722.4" font-size="22" text-anchor="middle" fill="#000">C</text>
<text x="1699.07" y="1722.4" font-size="22" text-anchor="middle" fill="#000">C</text>
<text x="1718.9" y="1722.4" font-size="22" text-anchor="middle" fill="#000">T</text>
<text x="1738.73" y="1722.4" font-size="22" text-anchor="middle" fill="#000">G</text>
<text x="1758.56" y="1722.4" font-size="22" text-anchor="middle" fill="#000">C</text>
<text x="1778.39" y="1722.4" font-size="22" text-anchor="middle" fill="#000">C</text>
<text x="1798.22" y="1722.4" font-size="22" text-anchor="middle" fill="#000">C</text>
<text x="1818.05" y="1722.4" font-size="22" text-anchor="middle" fill="#000">T</text>
<text x="1837.88" y="1722.4" font-size="22" text-anchor="middle" fill="#000">G</text>
<text x="1857.71" y="1722.4" font-size="22" text-anchor="middle" fill="#000">G</text>
<text x="1877.54" y="1722.4" font-size="22" text-anchor="middle" fill="#000">G</text>
<text x="1897.37" y="1722.4" font-size="22" text-anchor="middle" fill="#000">A</text>
<text x="1917.2" y="1722.4" font-size="22" text-anchor="middle" fill="#000">G</text>
<text x="1937.03" y="1722.4" font-size="22" text-anchor="middle" fill="#000">A</text>
<text x="1956.86" y="1722.4" font-size="22" text-anchor="middle" fill="#000">G</text>
<text x="1976.69" y="1722.4" font-size="22" text-anchor="middle" fill="#000">A</text>
<text x="1996.52" y="1722.4" font-size="22" text-anchor="middle" fill="#000">C</text>
<text x="2016.35" y="1722.4" font-size="22.5" text-anchor="middle" fill="#9e1a2e" font-weight="bold">C</text>
<text x="2036.18" y="1722.4" font-size="22.5" text-anchor="middle" fill="#9e1a2e" font-weight="bold">G</text>
<text x="2056.01" y="1722.4" font-size="22" text-anchor="middle" fill="#000">C</text>
<text x="1176.8" y="1764.9" font-size="27.8" text-anchor="start" fill="#000">Read position (bp)</text>
<text x="786.8" y="1582" font-size="37" text-anchor="start" fill="#000">Total UMIs: 192835</text>
<text x="1474.2" y="1546.7" font-size="31" text-anchor="start" fill="#000">R270</text>
<path d="M1481.6 1555.6H1541" stroke="#000" stroke-width="2" fill="none"/>
<text x="2009.9" y="1546" font-size="31" text-anchor="start" fill="#000">R279</text>
<path d="M2017 1556.4H2076.8" stroke="#000" stroke-width="2" fill="none"/>
<text x="0" y="0" font-size="34" fill="#000" transform="translate(320.3 1658.6) rotate(-90)">UMIs (%)</text>
<path d="M410.12 1697.2H420.04H439.87H459.69H479.53H499.36H519.18H539.01H558.85H578.67H598.5H618.33H638.16H657.99H677.82H697.65H717.48H737.31H757.14H776.97H796.8H816.63H836.46H856.29H876.12H895.95H915.78H935.61H955.44H975.27H995.1H1014.93H1034.76V1694H1054.59V1697.2H1074.42V1691.8H1094.25V1697.2H1114.09H1133.91H1153.74H1173.57H1193.4H1213.23H1233.07H1252.89H1272.72H1292.55H1312.38H1332.21H1352.04H1371.88H1391.7H1411.53V1694.4H1431.36V1697.2H1451.19H1471.03H1490.86H1510.68H1530.51V1690H1550.34V1697.2H1570.17H1590H1609.84H1629.66H1649.49H1669.32H1689.15H1708.98H1728.82H1748.64H1768.47H1788.3H1808.13H1827.96H1847.79H1867.62H1887.45H1907.28V1694H1927.11V1697.2H1946.94H1966.77H1986.61H2006.43H2026.26H2046.09H2056.01" stroke="#8a4c9c" stroke-width="2" fill="none"/>
<path d="M410.12 1697.2H420.04H439.87H459.69H479.53H499.36H519.18H539.01H558.85H578.67V1690H598.5V1697.2H618.33H638.16H657.99H677.82V1650H697.65V1690.8H717.48V1697.2H737.31H757.14H776.97V1690.8H796.8V1697.2H816.63H836.46V1687.5H856.29H876.12V1697.2H895.95H915.78H935.61H955.44H975.27H995.1H1014.93H1034.76H1054.59H1074.42H1094.25H1114.09H1133.91V1687.5H1153.74V1686.7H1173.57V1647.4H1193.4V1697.2H1213.23H1233.07H1252.89V1645.4H1272.72V1697.2H1292.55H1312.38H1332.21H1352.04H1371.88H1391.7H1411.53H1431.36H1451.19H1471.03H1490.86V1652.6H1510.68V1697.2H1530.51H1550.34H1570.17H1590H1609.84V1688.3H1629.66V1697.2H1649.49V1600.8H1669.32V1697.2H1689.15H1708.98H1728.82V1662.7H1748.64V1697.2H1768.47H1788.3H1808.13H1827.96V1687.2H1847.79V1686.9H1867.62V1697.2H1887.45H1907.28H1927.11H1946.94V1687.6H1966.77V1697.2H1986.61H2006.43H2026.26V1575.9H2046.09V1697.2H2056.01" stroke="#8a4c9c" stroke-width="2" fill="none"/>
<path d="M410.12 1697.2H420.04H439.87H459.69H479.53H499.36H519.18H539.01H558.85H578.67H598.5H618.33H638.16H657.99H677.82H697.65H717.48H737.31H757.14H776.97H796.8H816.63H836.46H856.29H876.12H895.95H915.78H935.61H955.44H975.27H995.1H1014.93H1034.76H1054.59V1687.5H1074.42V1697.2H1094.25H1114.09H1133.91H1153.74H1173.57H1193.4H1213.23H1233.07H1252.89H1272.72H1292.55H1312.38H1332.21H1352.04H1371.88H1391.7V1686.2H1411.53V1697.2H1431.36H1451.19H1471.03H1490.86H1510.68H1530.51H1550.34H1570.17H1590H1609.84H1629.66H1649.49H1669.32H1689.15H1708.98H1728.82H1748.64H1768.47H1788.3H1808.13H1827.96H1847.79H1867.62H1887.45H1907.28H1927.11H1946.94H1966.77H1986.61H2006.43H2026.26H2046.09H2056.01" stroke="#8a4c9c" stroke-width="2" fill="none"/>
<path d="M410.12 1697.2H420.04H439.87H459.69H479.53H499.36H519.18H539.01H558.85H578.67H598.5H618.33H638.16H657.99H677.82H697.65H717.48H737.31H757.14H776.97H796.8H816.63H836.46H856.29H876.12H895.95H915.78H935.61H955.44H975.27H995.1H1014.93H1034.76H1054.59H1074.42H1094.25H1114.09H1133.91H1153.74H1173.57H1193.4H1213.23H1233.07H1252.89H1272.72H1292.55H1312.38H1332.21H1352.04H1371.88H1391.7H1411.53H1431.36H1451.19H1471.03H1490.86H1510.68H1530.51H1550.34H1570.17H1590H1609.84H1629.66H1649.49H1669.32H1689.15H1708.98H1728.82H1748.64H1768.47H1788.3H1808.13H1827.96H1847.79H1867.62H1887.45H1907.28H1927.11H1946.94H1966.77H1986.61H2006.43H2026.26H2046.09H2056.01" stroke="#da2038" stroke-width="2" fill="none"/>
<path d="M410.12 1697.2H420.04H439.87H459.69H479.53H499.36H519.18H539.01H558.85H578.67H598.5H618.33H638.16H657.99H677.82H697.65H717.48V1688.8H737.31V1697.2H757.14V1688.8H776.97V1697.2H796.8H816.63H836.46H856.29H876.12V1682.4H895.95V1687H915.78V1697.2H935.61H955.44H975.27H995.1H1014.93H1034.76H1054.59H1074.42H1094.25V1671.4H1114.09V1697.2H1133.91H1153.74H1173.57H1193.4V1680.6H1213.23V1697.2H1233.07V1666.6H1252.89V1697.2H1272.72H1292.55H1312.38H1332.21H1352.04H1371.88V1656.9H1391.7V1697.2H1411.53H1431.36H1451.19H1471.03H1490.86H1510.68H1530.51H1550.34H1570.17H1590H1609.84H1629.66H1649.49H1669.32H1689.15H1708.98H1728.82H1748.64H1768.47H1788.3H1808.13H1827.96H1847.79H1867.62H1887.45V1654H1907.28V1697.2H1927.11V1668H1946.94V1697.2H1966.77V1678.9H1986.61V1697.2H2006.43H2026.26H2046.09H2056.01" stroke="#da2038" stroke-width="2" fill="none"/>
<path d="M410.12 1697.2H420.04H439.87H459.69H479.53H499.36H519.18H539.01H558.85H578.67H598.5H618.33H638.16H657.99H677.82H697.65H717.48H737.31H757.14H776.97H796.8H816.63H836.46H856.29V1683.2H876.12V1697.2H895.95H915.78H935.61H955.44H975.27H995.1H1014.93H1034.76H1054.59H1074.42H1094.25H1114.09H1133.91H1153.74H1173.57H1193.4H1213.23H1233.07H1252.89H1272.72H1292.55H1312.38H1332.21H1352.04H1371.88H1391.7H1411.53H1431.36H1451.19H1471.03H1490.86H1510.68H1530.51H1550.34H1570.17H1590H1609.84H1629.66H1649.49H1669.32H1689.15H1708.98H1728.82H1748.64H1768.47H1788.3H1808.13H1827.96H1847.79H1867.62H1887.45H1907.28H1927.11H1946.94H1966.77H1986.61H2006.43H2026.26H2046.09H2056.01" stroke="#da2038" stroke-width="2" fill="none"/>
<path d="M410.12 1697.2H420.04H439.87H459.69H479.53H499.36H519.18H539.01H558.85H578.67H598.5H618.33H638.16H657.99H677.82H697.65H717.48H737.31H757.14H776.97H796.8H816.63H836.46H856.29H876.12H895.95H915.78H935.61H955.44H975.27H995.1H1014.93H1034.76H1054.59H1074.42H1094.25H1114.09H1133.91H1153.74H1173.57H1193.4H1213.23H1233.07H1252.89H1272.72H1292.55H1312.38H1332.21H1352.04H1371.88V1689.3H1391.7V1697.2H1411.53H1431.36H1451.19H1471.03H1490.86H1510.68H1530.51H1550.34H1570.17H1590H1609.84H1629.66H1649.49H1669.32H1689.15H1708.98H1728.82H1748.64H1768.47H1788.3H1808.13H1827.96H1847.79H1867.62H1887.45H1907.28H1927.11V1687.6H1946.94V1697.2H1966.77H1986.61H2006.43H2026.26H2046.09H2056.01" stroke="#da2038" stroke-width="2" fill="none"/>
<path d="M410.12 1695.2H420.04V1697.2H439.87H459.69H479.53H499.36H519.18V1695H539.01V1697.2H558.85H578.67H598.5H618.33H638.16H657.99H677.82H697.65H717.48H737.31H757.14H776.97H796.8H816.63H836.46H856.29H876.12H895.95H915.78V1690.8H935.61V1694.4H955.44V1697.2H975.27H995.1V1691.3H1014.93V1697.2H1034.76H1054.59H1074.42H1094.25H1114.09H1133.91H1153.74H1173.57H1193.4H1213.23H1233.07H1252.89H1272.72H1292.55H1312.38H1332.21H1352.04H1371.88H1391.7H1411.53H1431.36H1451.19H1471.03H1490.86H1510.68H1530.51H1550.34H1570.17H1590H1609.84H1629.66H1649.49H1669.32H1689.15H1708.98H1728.82H1748.64H1768.47V1691.8H1788.3V1697.2H1808.13H1827.96H1847.79H1867.62H1887.45H1907.28H1927.11H1946.94H1966.77H1986.61H2006.43H2026.26H2046.09H2056.01" stroke="#41a04c" stroke-width="2" fill="none"/>
<path d="M410.12 1697.2H420.04V1666.3H439.87V1697.2H459.69H479.53H499.36H519.18H539.01H558.85H578.67H598.5H618.33H638.16H657.99H677.82H697.65H717.48H737.31H757.14H776.97H796.8H816.63H836.46H856.29H876.12H895.95H915.78H935.61H955.44H975.27H995.1H1014.93H1034.76H1054.59H1074.42H1094.25H1114.09H1133.91H1153.74H1173.57H1193.4H1213.23H1233.07H1252.89H1272.72H1292.55H1312.38H1332.21H1352.04H1371.88H1391.7H1411.53H1431.36H1451.19H1471.03H1490.86H1510.68H1530.51H1550.34H1570.17H1590H1609.84H1629.66H1649.49H1669.32H1689.15V1688.6H1708.98V1697.2H1728.82H1748.64H1768.47H1788.3V1682.2H1808.13V1697.2H1827.96H1847.79H1867.62H1887.45H1907.28H1927.11H1946.94H1966.77H1986.61H2006.43H2026.26H2046.09H2056.01" stroke="#41a04c" stroke-width="2" fill="none"/>
<path d="M410.12 1697.2H420.04V1685H439.87V1697.2H459.69H479.53H499.36H519.18H539.01H558.85H578.67H598.5H618.33V1689.3H638.16H657.99V1673.5H677.82V1697.2H697.65H717.48H737.31H757.14H776.97H796.8H816.63H836.46H856.29H876.12H895.95H915.78H935.61H955.44H975.27H995.1H1014.93H1034.76H1054.59H1074.42H1094.25H1114.09V1641.6H1133.91V1697.2H1153.74H1173.57H1193.4H1213.23V1681.1H1233.07V1697.2H1252.89H1272.72V1681.1H1292.55V1697.2H1312.38H1332.21H1352.04H1371.88H1391.7H1411.53H1431.36H1451.19H1471.03V1684.2H1490.86V1697.2H1510.68H1530.51H1550.34H1570.17H1590H1609.84H1629.66H1649.49H1669.32V1539.5H1689.15V1680H1708.98V1697.2H1728.82H1748.64V1607.5H1768.47V1697.2H1788.3H1808.13H1827.96H1847.79H1867.62H1887.45H1907.28H1927.11H1946.94H1966.77H1986.61V1682.1H2006.43V1656.1H2026.26V1697.2H2046.09V1652.9H2056.01" stroke="#41a04c" stroke-width="2" fill="none"/>
<path d="M410.12 1697.2H420.04H439.87H459.69H479.53V1690.5H499.36H519.18H539.01V1697.2H558.85H578.67H598.5H618.33H638.16H657.99H677.82H697.65H717.48H737.31H757.14H776.97H796.8V1691H816.63V1697.2H836.46H856.29H876.12H895.95H915.78H935.61H955.44H975.27H995.1H1014.93H1034.76H1054.59H1074.42H1094.25H1114.09H1133.91H1153.74H1173.57H1193.4H1213.23H1233.07H1252.89H1272.72H1292.55H1312.38H1332.21H1352.04H1371.88H1391.7H1411.53H1431.36H1451.19V1690.8H1471.03V1697.2H1490.86H1510.68V1691.8H1530.51V1697.2H1550.34H1570.17H1590H1609.84H1629.66V1690.8H1649.49V1697.2H1669.32H1689.15H1708.98H1728.82H1748.64H1768.47H1788.3H1808.13V1690.4H1827.96V1697.2H1847.79H1867.62H1887.45H1907.28H1927.11H1946.94H1966.77H1986.61H2006.43H2026.26H2046.09H2056.01" stroke="#3276b3" stroke-width="2" fill="none"/>
<path d="M410.12 1697.2H420.04H439.87V1585H459.69V1690H479.53V1697.2H499.36H519.18H539.01V1688.8H558.85H578.67V1697.2H598.5V1689.3H618.33V1697.2H638.16H657.99H677.82H697.65H717.48H737.31H757.14H776.97H796.8H816.63H836.46H856.29H876.12H895.95H915.78H935.61H955.44V1681.6H975.27V1685.5H995.1V1697.2H1014.93V1685H1034.76V1697.2H1054.59H1074.42H1094.25H1114.09H1133.91H1153.74H1173.57H1193.4H1213.23H1233.07H1252.89H1272.72H1292.55V1688.3H1312.38V1688.8H1332.21V1685H1352.04V1697.2H1371.88H1391.7H1411.53H1431.36V1685.7H1451.19V1697.2H1471.03H1490.86H1510.68H1530.51H1550.34V1685H1570.17V1686.7H1590V1683.2H1609.84V1697.2H1629.66H1649.49H1669.32H1689.15H1708.98V1655H1728.82V1697.2H1748.64H1768.47H1788.3H1808.13V1674.4H1827.96V1697.2H1847.79H1867.62H1887.45H1907.28H1927.11H1946.94H1966.77H1986.61H2006.43H2026.26H2046.09H2056.01" stroke="#3276b3" stroke-width="2" fill="none"/>
<path d="M410.12 1697.2H420.04H439.87V1687.5H459.69V1697.2H479.53H499.36H519.18H539.01H558.85H578.67H598.5H618.33H638.16H657.99H677.82H697.65H717.48H737.31H757.14H776.97H796.8H816.63H836.46H856.29H876.12H895.95H915.78H935.61H955.44V1687H975.27V1697.2H995.1H1014.93H1034.76H1054.59H1074.42H1094.25H1114.09H1133.91H1153.74H1173.57H1193.4H1213.23H1233.07H1252.89H1272.72H1292.55H1312.38H1332.21H1352.04H1371.88H1391.7H1411.53H1431.36H1451.19H1471.03H1490.86H1510.68H1530.51H1550.34H1570.17H1590H1609.84H1629.66H1649.49H1669.32H1689.15H1708.98V1686H1728.82V1697.2H1748.64H1768.47H1788.3H1808.13H1827.96H1847.79H1867.62H1887.45H1907.28H1927.11H1946.94H1966.77H1986.61H2006.43H2026.26H2046.09H2056.01" stroke="#3276b3" stroke-width="2" fill="none"/>
<path d="M410.12 1697.2H420.04H439.87H459.69V1693.5H479.53H499.36H519.18H539.01V1697.2H558.85H578.67H598.5H618.33H638.16H657.99H677.82H697.65H717.48H737.31H757.14H776.97H796.8H816.63H836.46H856.29H876.12H895.95H915.78H935.61H955.44H975.27H995.1H1014.93H1034.76H1054.59H1074.42H1094.25H1114.09H1133.91H1153.74H1173.57H1193.4H1213.23H1233.07H1252.89H1272.72H1292.55H1312.38H1332.21H1352.04H1371.88H1391.7H1411.53H1431.36H1451.19H1471.03H1490.86H1510.68H1530.51H1550.34H1570.17H1590H1609.84H1629.66H1649.49H1669.32H1689.15H1708.98H1728.82H1748.64H1768.47H1788.3H1808.13H1827.96H1847.79H1867.62H1887.45H1907.28H1927.11H1946.94H1966.77H1986.61H2006.43H2026.26H2046.09H2056.01" stroke="#3276b3" stroke-width="2" fill="none"/>
<path d="M410.12 1698.5H2056.01" stroke="#3276b3" stroke-width="1.8" fill="none"/>
<path d="M588.59 1683V1697M581.59 1690H595.59" fill="none" stroke="#8a4c9c" stroke-width="1.4"/>
<path d="M687.74 1643V1657M680.74 1650H694.74" fill="none" stroke="#8a4c9c" stroke-width="1.4"/>
<path d="M707.57 1683.8V1697.8M700.57 1690.8H714.57" fill="none" stroke="#8a4c9c" stroke-width="1.4"/>
<path d="M786.89 1683.8V1697.8M779.89 1690.8H793.89" fill="none" stroke="#8a4c9c" stroke-width="1.4"/>
<path d="M846.38 1680.5V1694.5M839.38 1687.5H853.38" fill="none" stroke="#8a4c9c" stroke-width="1.4"/>
<path d="M866.21 1680.5V1694.5M859.21 1687.5H873.21" fill="none" stroke="#8a4c9c" stroke-width="1.4"/>
<path d="M1143.83 1680.5V1694.5M1136.83 1687.5H1150.83" fill="none" stroke="#8a4c9c" stroke-width="1.4"/>
<path d="M1163.66 1679.7V1693.7M1156.66 1686.7H1170.66" fill="none" stroke="#8a4c9c" stroke-width="1.4"/>
<path d="M1183.49 1640.4V1654.4M1176.49 1647.4H1190.49" fill="none" stroke="#8a4c9c" stroke-width="1.4"/>
<path d="M1262.81 1638.4V1652.4M1255.81 1645.4H1269.81" fill="none" stroke="#8a4c9c" stroke-width="1.4"/>
<path d="M1500.77 1645.6V1659.6M1493.77 1652.6H1507.77" fill="none" stroke="#8a4c9c" stroke-width="1.4"/>
<path d="M1619.75 1681.3V1695.3M1612.75 1688.3H1626.75" fill="none" stroke="#8a4c9c" stroke-width="1.4"/>
<path d="M1659.41 1593.8V1607.8M1652.41 1600.8H1666.41" fill="none" stroke="#8a4c9c" stroke-width="1.4"/>
<path d="M1738.73 1655.7V1669.7M1731.73 1662.7H1745.73" fill="none" stroke="#8a4c9c" stroke-width="1.4"/>
<path d="M1837.88 1680.2V1694.2M1830.88 1687.2H1844.88" fill="none" stroke="#8a4c9c" stroke-width="1.4"/>
<path d="M1857.71 1679.9V1693.9M1850.71 1686.9H1864.71" fill="none" stroke="#8a4c9c" stroke-width="1.4"/>
<path d="M1956.86 1680.6V1694.6M1949.86 1687.6H1963.86" fill="none" stroke="#8a4c9c" stroke-width="1.4"/>
<path d="M2036.18 1568.9V1582.9M2029.18 1575.9H2043.18" fill="none" stroke="#8a4c9c" stroke-width="1.4"/>
<circle cx="1064.51" cy="1687.5" r="3.75" fill="none" stroke="#8a4c9c" stroke-width="1.4"/>
<circle cx="1401.62" cy="1686.2" r="3.75" fill="none" stroke="#8a4c9c" stroke-width="1.4"/>
<path d="M727.4 1684.2L732.4 1692.9L722.4 1692.9Z" fill="none" stroke="#da2038" stroke-width="1.4" stroke-linejoin="miter"/>
<path d="M767.06 1684.2L772.06 1692.9L762.06 1692.9Z" fill="none" stroke="#da2038" stroke-width="1.4" stroke-linejoin="miter"/>
<path d="M886.04 1677.8L891.04 1686.5L881.04 1686.5Z" fill="none" stroke="#da2038" stroke-width="1.4" stroke-linejoin="miter"/>
<path d="M905.87 1682.4L910.87 1691.1L900.87 1691.1Z" fill="none" stroke="#da2038" stroke-width="1.4" stroke-linejoin="miter"/>
<path d="M1104.17 1666.8L1109.17 1675.5L1099.17 1675.5Z" fill="none" stroke="#da2038" stroke-width="1.4" stroke-linejoin="miter"/>
<path d="M1203.32 1676L1208.32 1684.7L1198.32 1684.7Z" fill="none" stroke="#da2038" stroke-width="1.4" stroke-linejoin="miter"/>
<path d="M1242.98 1662L1247.98 1670.7L1237.98 1670.7Z" fill="none" stroke="#da2038" stroke-width="1.4" stroke-linejoin="miter"/>
<path d="M1381.79 1652.3L1386.79 1661L1376.79 1661Z" fill="none" stroke="#da2038" stroke-width="1.4" stroke-linejoin="miter"/>
<path d="M1897.37 1649.4L1902.37 1658.1L1892.37 1658.1Z" fill="none" stroke="#da2038" stroke-width="1.4" stroke-linejoin="miter"/>
<path d="M1937.03 1663.4L1942.03 1672.1L1932.03 1672.1Z" fill="none" stroke="#da2038" stroke-width="1.4" stroke-linejoin="miter"/>
<path d="M1976.69 1674.3L1981.69 1683L1971.69 1683Z" fill="none" stroke="#da2038" stroke-width="1.4" stroke-linejoin="miter"/>
<rect x="862.11" y="1679.1" width="8.2" height="8.2" fill="none" stroke="#da2038" stroke-width="1.4"/>
<circle cx="1381.79" cy="1689.3" r="3.75" fill="none" stroke="#da2038" stroke-width="1.4"/>
<circle cx="1937.03" cy="1687.6" r="3.75" fill="none" stroke="#da2038" stroke-width="1.4"/>
<path d="M429.95 1659.3V1673.3M422.95 1666.3H436.95" fill="none" stroke="#41a04c" stroke-width="1.4"/>
<path d="M1699.07 1681.6V1695.6M1692.07 1688.6H1706.07" fill="none" stroke="#41a04c" stroke-width="1.4"/>
<path d="M1798.22 1675.2V1689.2M1791.22 1682.2H1805.22" fill="none" stroke="#41a04c" stroke-width="1.4"/>
<circle cx="429.95" cy="1685" r="3.75" fill="none" stroke="#41a04c" stroke-width="1.4"/>
<circle cx="628.25" cy="1689.3" r="3.75" fill="none" stroke="#41a04c" stroke-width="1.4"/>
<circle cx="648.08" cy="1689.3" r="3.75" fill="none" stroke="#41a04c" stroke-width="1.4"/>
<circle cx="667.91" cy="1673.5" r="3.75" fill="none" stroke="#41a04c" stroke-width="1.4"/>
<circle cx="1124" cy="1641.6" r="3.75" fill="none" stroke="#41a04c" stroke-width="1.4"/>
<circle cx="1223.15" cy="1681.1" r="3.75" fill="none" stroke="#41a04c" stroke-width="1.4"/>
<circle cx="1282.64" cy="1681.1" r="3.75" fill="none" stroke="#41a04c" stroke-width="1.4"/>
<circle cx="1480.94" cy="1684.2" r="3.75" fill="none" stroke="#41a04c" stroke-width="1.4"/>
<circle cx="1679.24" cy="1539.5" r="3.75" fill="none" stroke="#41a04c" stroke-width="1.4"/>
<circle cx="1699.07" cy="1680" r="3.75" fill="none" stroke="#41a04c" stroke-width="1.4"/>
<circle cx="1758.56" cy="1607.5" r="3.75" fill="none" stroke="#41a04c" stroke-width="1.4"/>
<circle cx="1996.52" cy="1682.1" r="3.75" fill="none" stroke="#41a04c" stroke-width="1.4"/>
<circle cx="2016.35" cy="1656.1" r="3.75" fill="none" stroke="#41a04c" stroke-width="1.4"/>
<circle cx="2056.01" cy="1652.9" r="3.75" fill="none" stroke="#41a04c" stroke-width="1.4"/>
<rect x="445.68" y="1580.9" width="8.2" height="8.2" fill="none" stroke="#3276b3" stroke-width="1.4"/>
<rect x="465.51" y="1685.9" width="8.2" height="8.2" fill="none" stroke="#3276b3" stroke-width="1.4"/>
<rect x="544.83" y="1684.7" width="8.2" height="8.2" fill="none" stroke="#3276b3" stroke-width="1.4"/>
<rect x="564.66" y="1684.7" width="8.2" height="8.2" fill="none" stroke="#3276b3" stroke-width="1.4"/>
<rect x="604.32" y="1685.2" width="8.2" height="8.2" fill="none" stroke="#3276b3" stroke-width="1.4"/>
<rect x="961.26" y="1677.5" width="8.2" height="8.2" fill="none" stroke="#3276b3" stroke-width="1.4"/>
<rect x="981.09" y="1681.4" width="8.2" height="8.2" fill="none" stroke="#3276b3" stroke-width="1.4"/>
<rect x="1020.75" y="1680.9" width="8.2" height="8.2" fill="none" stroke="#3276b3" stroke-width="1.4"/>
<rect x="1298.37" y="1684.2" width="8.2" height="8.2" fill="none" stroke="#3276b3" stroke-width="1.4"/>
<rect x="1318.2" y="1684.7" width="8.2" height="8.2" fill="none" stroke="#3276b3" stroke-width="1.4"/>
<rect x="1338.03" y="1680.9" width="8.2" height="8.2" fill="none" stroke="#3276b3" stroke-width="1.4"/>
<rect x="1437.18" y="1681.6" width="8.2" height="8.2" fill="none" stroke="#3276b3" stroke-width="1.4"/>
<rect x="1556.16" y="1680.9" width="8.2" height="8.2" fill="none" stroke="#3276b3" stroke-width="1.4"/>
<rect x="1575.99" y="1682.6" width="8.2" height="8.2" fill="none" stroke="#3276b3" stroke-width="1.4"/>
<rect x="1595.82" y="1679.1" width="8.2" height="8.2" fill="none" stroke="#3276b3" stroke-width="1.4"/>
<rect x="1714.8" y="1650.9" width="8.2" height="8.2" fill="none" stroke="#3276b3" stroke-width="1.4"/>
<rect x="1813.95" y="1670.3" width="8.2" height="8.2" fill="none" stroke="#3276b3" stroke-width="1.4"/>
<path d="M449.78 1680.5V1694.5M442.78 1687.5H456.78" fill="none" stroke="#3276b3" stroke-width="1.4"/>
<path d="M965.36 1680V1694M958.36 1687H972.36" fill="none" stroke="#3276b3" stroke-width="1.4"/>
<path d="M1718.9 1679V1693M1711.9 1686H1725.9" fill="none" stroke="#3276b3" stroke-width="1.4"/>
<path d="M393.1 1783.2V1996.5H2093" stroke="#000" stroke-width="2" fill="none"/>
<path d="M388.6 1964.5H393.1" stroke="#222" stroke-width="1.3" fill="none"/>
<text x="380.8" y="1969.3" font-size="30.5" text-anchor="end" fill="#1a1a1a">0%</text>
<path d="M388.6 1912H393.1" stroke="#222" stroke-width="1.3" fill="none"/>
<text x="380.8" y="1916.8" font-size="30.5" text-anchor="end" fill="#1a1a1a">1%</text>
<path d="M388.6 1859.3H393.1" stroke="#222" stroke-width="1.3" fill="none"/>
<text x="380.8" y="1864.1" font-size="30.5" text-anchor="end" fill="#1a1a1a">2%</text>
<path d="M388.6 1806.8H393.1" stroke="#222" stroke-width="1.3" fill="none"/>
<text x="380.8" y="1811.6" font-size="30.5" text-anchor="end" fill="#1a1a1a">3%</text>
<path d="M727.4 1996.5V1999" stroke="#333" stroke-width="1.2" fill="none"/>
<text x="727.4" y="2018.8" font-size="17.8" text-anchor="middle" fill="#1a1a1a">40</text>
<path d="M1124 1996.5V1999" stroke="#333" stroke-width="1.2" fill="none"/>
<text x="1124" y="2018.8" font-size="17.8" text-anchor="middle" fill="#1a1a1a">60</text>
<path d="M1520.6 1996.5V1999" stroke="#333" stroke-width="1.2" fill="none"/>
<text x="1520.6" y="2018.8" font-size="17.8" text-anchor="middle" fill="#1a1a1a">80</text>
<path d="M1917.2 1996.5V1999" stroke="#333" stroke-width="1.2" fill="none"/>
<text x="1917.2" y="2018.8" font-size="17.8" text-anchor="middle" fill="#1a1a1a">100</text>
<text x="410.12" y="1989.2" font-size="22" text-anchor="middle" fill="#000">C</text>
<text x="429.95" y="1989.2" font-size="22" text-anchor="middle" fill="#000">C</text>
<text x="449.78" y="1989.2" font-size="22" text-anchor="middle" fill="#000">T</text>
<text x="469.61" y="1989.2" font-size="22" text-anchor="middle" fill="#000">T</text>
<text x="489.44" y="1989.2" font-size="22" text-anchor="middle" fill="#000">T</text>
<text x="509.27" y="1989.2" font-size="22" text-anchor="middle" fill="#000">T</text>
<text x="529.1" y="1989.2" font-size="22" text-anchor="middle" fill="#000">C</text>
<text x="548.93" y="1989.2" font-size="22" text-anchor="middle" fill="#000">T</text>
<text x="568.76" y="1989.2" font-size="22" text-anchor="middle" fill="#000">T</text>
<text x="588.59" y="1989.2" font-size="22" text-anchor="middle" fill="#000">G</text>
<text x="608.42" y="1989.2" font-size="22" text-anchor="middle" fill="#000">T</text>
<text x="628.25" y="1989.2" font-size="22" text-anchor="middle" fill="#000">C</text>
<text x="648.08" y="1989.2" font-size="22" text-anchor="middle" fill="#000">C</text>
<text x="667.91" y="1989.2" font-size="22.5" text-anchor="middle" fill="#9e1a2e" font-weight="bold">C</text>
<text x="687.74" y="1989.2" font-size="22.5" text-anchor="middle" fill="#9e1a2e" font-weight="bold">G</text>
<text x="707.57" y="1989.2" font-size="22" text-anchor="middle" fill="#000">G</text>
<text x="727.4" y="1989.2" font-size="22" text-anchor="middle" fill="#000">A</text>
<text x="747.23" y="1989.2" font-size="22" text-anchor="middle" fill="#000">T</text>
<text x="767.06" y="1989.2" font-size="22" text-anchor="middle" fill="#000">A</text>
<text x="786.89" y="1989.2" font-size="22" text-anchor="middle" fill="#000">G</text>
<text x="806.72" y="1989.2" font-size="22" text-anchor="middle" fill="#000">T</text>
<text x="826.55" y="1989.2" font-size="22" text-anchor="middle" fill="#000">G</text>
<text x="846.38" y="1989.2" font-size="22" text-anchor="middle" fill="#000">G</text>
<text x="866.21" y="1989.2" font-size="22" text-anchor="middle" fill="#000">G</text>
<text x="886.04" y="1989.2" font-size="22" text-anchor="middle" fill="#000">A</text>
<text x="905.87" y="1989.2" font-size="22" text-anchor="middle" fill="#000">A</text>
<text x="925.7" y="1989.2" font-size="22" text-anchor="middle" fill="#000">C</text>
<text x="945.53" y="1989.2" font-size="22" text-anchor="middle" fill="#000">C</text>
<text x="965.36" y="1989.2" font-size="22" text-anchor="middle" fill="#000">T</text>
<text x="985.19" y="1989.2" font-size="22" text-anchor="middle" fill="#000">T</text>
<text x="1005.02" y="1989.2" font-size="22" text-anchor="middle" fill="#000">C</text>
<text x="1024.85" y="1989.2" font-size="22" text-anchor="middle" fill="#000">T</text>
<text x="1044.68" y="1989.2" font-size="22" text-anchor="middle" fill="#000">G</text>
<text x="1064.51" y="1989.2" font-size="22" text-anchor="middle" fill="#000">G</text>
<text x="1084.34" y="1989.2" font-size="22" text-anchor="middle" fill="#000">G</text>
<text x="1104.17" y="1989.2" font-size="22" text-anchor="middle" fill="#000">A</text>
<text x="1124" y="1989.2" font-size="22.5" text-anchor="middle" fill="#9e1a2e" font-weight="bold">C</text>
<text x="1143.83" y="1989.2" font-size="22.5" text-anchor="middle" fill="#9e1a2e" font-weight="bold">G</text>
<text x="1163.66" y="1989.2" font-size="22" text-anchor="middle" fill="#000">G</text>
<text x="1183.49" y="1989.2" font-size="22" text-anchor="middle" fill="#000">G</text>
<text x="1203.32" y="1989.2" font-size="22" text-anchor="middle" fill="#000">A</text>
<text x="1223.15" y="1989.2" font-size="22" text-anchor="middle" fill="#000">C</text>
<text x="1242.98" y="1989.2" font-size="22" text-anchor="middle" fill="#000">A</text>
<text x="1262.81" y="1989.2" font-size="22" text-anchor="middle" fill="#000">G</text>
<text x="1282.64" y="1989.2" font-size="22" text-anchor="middle" fill="#000">C</text>
<text x="1302.47" y="1989.2" font-size="22" text-anchor="middle" fill="#000">T</text>
<text x="1322.3" y="1989.2" font-size="22" text-anchor="middle" fill="#000">T</text>
<text x="1342.13" y="1989.2" font-size="22" text-anchor="middle" fill="#000">T</text>
<text x="1361.96" y="1989.2" font-size="22" text-anchor="middle" fill="#000">G</text>
<text x="1381.79" y="1989.2" font-size="22" text-anchor="middle" fill="#000">A</text>
<text x="1401.62" y="1989.2" font-size="22" text-anchor="middle" fill="#000">G</text>
<text x="1421.45" y="1989.2" font-size="22" text-anchor="middle" fill="#000">G</text>
<text x="1441.28" y="1989.2" font-size="22" text-anchor="middle" fill="#000">T</text>
<text x="1461.11" y="1989.2" font-size="22" text-anchor="middle" fill="#000">T</text>
<text x="1480.94" y="1989.2" font-size="22" text-anchor="middle" fill="#000">A</text>
<text x="1500.77" y="1989.2" font-size="22" text-anchor="middle" fill="#000">G</text>
<text x="1520.6" y="1989.2" font-size="22" text-anchor="middle" fill="#000">A</text>
<text x="1540.43" y="1989.2" font-size="22" text-anchor="middle" fill="#000">G</text>
<text x="1560.26" y="1989.2" font-size="22" text-anchor="middle" fill="#000">T</text>
<text x="1580.09" y="1989.2" font-size="22" text-anchor="middle" fill="#000">T</text>
<text x="1599.92" y="1989.2" font-size="22" text-anchor="middle" fill="#000">T</text>
<text x="1619.75" y="1989.2" font-size="22" text-anchor="middle" fill="#000">G</text>
<text x="1639.58" y="1989.2" font-size="22" text-anchor="middle" fill="#000">T</text>
<text x="1659.41" y="1989.2" font-size="22" text-anchor="middle" fill="#000">G</text>
<text x="1679.24" y="1989.2" font-size="22" text-anchor="middle" fill="#000">C</text>
<text x="1699.07" y="1989.2" font-size="22" text-anchor="middle" fill="#000">C</text>
<text x="1718.9" y="1989.2" font-size="22" text-anchor="middle" fill="#000">T</text>
<text x="1738.73" y="1989.2" font-size="22" text-anchor="middle" fill="#000">G</text>
<text x="1758.56" y="1989.2" font-size="22" text-anchor="middle" fill="#000">C</text>
<text x="1778.39" y="1989.2" font-size="22" text-anchor="middle" fill="#000">C</text>
<text x="1798.22" y="1989.2" font-size="22" text-anchor="middle" fill="#000">C</text>
<text x="1818.05" y="1989.2" font-size="22" text-anchor="middle" fill="#000">T</text>
<text x="1837.88" y="1989.2" font-size="22" text-anchor="middle" fill="#000">G</text>
<text x="1857.71" y="1989.2" font-size="22" text-anchor="middle" fill="#000">G</text>
<text x="1877.54" y="1989.2" font-size="22" text-anchor="middle" fill="#000">G</text>
<text x="1897.37" y="1989.2" font-size="22" text-anchor="middle" fill="#000">A</text>
<text x="1917.2" y="1989.2" font-size="22" text-anchor="middle" fill="#000">G</text>
<text x="1937.03" y="1989.2" font-size="22" text-anchor="middle" fill="#000">A</text>
<text x="1956.86" y="1989.2" font-size="22" text-anchor="middle" fill="#000">G</text>
<text x="1976.69" y="1989.2" font-size="22" text-anchor="middle" fill="#000">A</text>
<text x="1996.52" y="1989.2" font-size="22" text-anchor="middle" fill="#000">C</text>
<text x="2016.35" y="1989.2" font-size="22" text-anchor="middle" fill="#000">A</text>
<text x="2036.18" y="1989.2" font-size="22" text-anchor="middle" fill="#000">G</text>
<text x="2056.01" y="1989.2" font-size="22" text-anchor="middle" fill="#000">A</text>
<text x="1176.8" y="2031.9" font-size="27.8" text-anchor="start" fill="#000">Read position (bp)</text>
<text x="786.8" y="1859.3" font-size="37" text-anchor="start" fill="#000">Total UMIs: 327734</text>
<text x="1474.9" y="1813.4" font-size="31" text-anchor="start" fill="#000">R270</text>
<path d="M1481.6 1822.8H1541" stroke="#000" stroke-width="2" fill="none"/>
<text x="2009.9" y="1812.3" font-size="31" text-anchor="start" fill="#000">R279</text>
<path d="M2017 1822H2076.8" stroke="#000" stroke-width="2" fill="none"/>
<text x="0" y="0" font-size="34" fill="#000" transform="translate(320.3 1924.4) rotate(-90)">UMIs (%)</text>
<path d="M410.12 1963H420.04H439.87H459.69H479.53H499.36H519.18H539.01H558.85H578.67H598.5V1960H618.33V1963H638.16H657.99H677.82H697.65V1960H717.48V1963H737.31H757.14H776.97H796.8H816.63H836.46H856.29H876.12H895.95H915.78H935.61H955.44H975.27H995.1H1014.93H1034.76V1961H1054.59V1963H1074.42V1961H1094.25V1963H1114.09H1133.91H1153.74H1173.57H1193.4H1213.23H1233.07H1252.89H1272.72H1292.55H1312.38H1332.21H1352.04H1371.88H1391.7H1411.53H1431.36H1451.19H1471.03H1490.86H1510.68H1530.51H1550.34H1570.17H1590H1609.84H1629.66H1649.49H1669.32H1689.15H1708.98H1728.82H1748.64H1768.47H1788.3H1808.13H1827.96H1847.79V1960.8H1867.62V1963H1887.45H1907.28H1927.11H1946.94H1966.77H1986.61H2006.43H2026.26H2046.09H2056.01" stroke="#8a4c9c" stroke-width="2" fill="none"/>
<path d="M410.12 1963H420.04H439.87H459.69H479.53H499.36H519.18H539.01H558.85H578.67H598.5H618.33H638.16H657.99H677.82V1937.1H697.65V1963H717.48H737.31H757.14H776.97H796.8H816.63H836.46V1958.8H856.29H876.12V1963H895.95H915.78H935.61H955.44H975.27H995.1H1014.93H1034.76H1054.59H1074.42H1094.25H1114.09H1133.91V1959.3H1153.74H1173.57V1937.1H1193.4V1963H1213.23H1233.07H1252.89V1937.6H1272.72V1963H1292.55H1312.38H1332.21H1352.04H1371.88H1391.7H1411.53H1431.36H1451.19H1471.03H1490.86H1510.68H1530.51H1550.34H1570.17H1590H1609.84H1629.66H1649.49V1932H1669.32V1963H1689.15H1708.98H1728.82V1946.6H1748.64V1963H1768.47H1788.3H1808.13H1827.96V1957.9H1847.79V1963H1867.62H1887.45H1907.28H1927.11H1946.94H1966.77H1986.61H2006.43H2026.26H2046.09H2056.01" stroke="#8a4c9c" stroke-width="2" fill="none"/>
<path d="M410.12 1963H420.04H439.87H459.69H479.53H499.36H519.18H539.01H558.85H578.67H598.5H618.33H638.16H657.99H677.82H697.65H717.48H737.31H757.14H776.97H796.8H816.63H836.46H856.29H876.12H895.95H915.78H935.61H955.44H975.27H995.1H1014.93H1034.76H1054.59V1958.3H1074.42V1963H1094.25H1114.09H1133.91H1153.74H1173.57H1193.4H1213.23H1233.07H1252.89H1272.72H1292.55H1312.38H1332.21H1352.04H1371.88H1391.7V1959.3H1411.53V1963H1431.36H1451.19H1471.03H1490.86H1510.68H1530.51H1550.34H1570.17H1590H1609.84H1629.66H1649.49H1669.32H1689.15H1708.98H1728.82H1748.64H1768.47H1788.3H1808.13H1827.96H1847.79H1867.62H1887.45H1907.28H1927.11H1946.94H1966.77H1986.61H2006.43H2026.26H2046.09H2056.01" stroke="#8a4c9c" stroke-width="2" fill="none"/>
<path d="M410.12 1963H420.04H439.87H459.69H479.53H499.36H519.18H539.01H558.85H578.67H598.5H618.33H638.16H657.99H677.82H697.65H717.48H737.31H757.14V1960H776.97V1963H796.8H816.63H836.46H856.29H876.12H895.95H915.78H935.61H955.44H975.27H995.1H1014.93H1034.76H1054.59H1074.42H1094.25H1114.09H1133.91H1153.74H1173.57H1193.4H1213.23H1233.07H1252.89H1272.72H1292.55H1312.38H1332.21H1352.04H1371.88H1391.7H1411.53H1431.36H1451.19H1471.03H1490.86H1510.68H1530.51H1550.34H1570.17H1590H1609.84H1629.66H1649.49H1669.32H1689.15H1708.98H1728.82H1748.64H1768.47H1788.3H1808.13H1827.96H1847.79H1867.62H1887.45H1907.28H1927.11H1946.94H1966.77H1986.61H2006.43H2026.26H2046.09H2056.01" stroke="#da2038" stroke-width="2" fill="none"/>
<path d="M410.12 1963H420.04H439.87H459.69H479.53H499.36H519.18H539.01H558.85H578.67H598.5H618.33H638.16H657.99H677.82H697.65H717.48V1958.8H737.31V1963H757.14H776.97H796.8H816.63H836.46H856.29H876.12V1955.5H895.95V1958.3H915.78V1963H935.61H955.44H975.27H995.1H1014.93H1034.76H1054.59H1074.42H1094.25V1949.1H1114.09V1963H1133.91H1153.74H1173.57H1193.4V1955H1213.23V1963H1233.07V1948.1H1252.89V1963H1272.72H1292.55H1312.38H1332.21H1352.04H1371.88V1943H1391.7V1963H1411.53H1431.36H1451.19H1471.03V1956.7H1490.86V1963H1510.68V1955H1530.51V1963H1550.34H1570.17H1590H1609.84H1629.66H1649.49H1669.32H1689.15H1708.98H1728.82H1748.64H1768.47H1788.3H1808.13H1827.96H1847.79H1867.62H1887.45V1946.7H1907.28V1963H1927.11V1954.3H1946.94V1963H1966.77V1954.7H1986.61V1963H2006.43V1933H2026.26V1963H2046.09V1943.5H2056.01" stroke="#da2038" stroke-width="2" fill="none"/>
<path d="M410.12 1963H420.04H439.87H459.69H479.53H499.36H519.18H539.01H558.85H578.67H598.5H618.33H638.16H657.99H677.82H697.65H717.48H737.31H757.14H776.97H796.8H816.63H836.46H856.29V1956.2H876.12V1963H895.95H915.78H935.61H955.44H975.27H995.1H1014.93H1034.76H1054.59H1074.42H1094.25H1114.09H1133.91H1153.74H1173.57H1193.4H1213.23H1233.07H1252.89H1272.72H1292.55H1312.38H1332.21H1352.04H1371.88V1945H1391.7V1963H1411.53H1431.36H1451.19H1471.03H1490.86H1510.68H1530.51H1550.34H1570.17H1590H1609.84H1629.66H1649.49H1669.32H1689.15H1708.98H1728.82H1748.64H1768.47H1788.3H1808.13H1827.96H1847.79H1867.62H1887.45H1907.28H1927.11H1946.94H1966.77H1986.61H2006.43H2026.26H2046.09H2056.01" stroke="#da2038" stroke-width="2" fill="none"/>
<path d="M410.12 1963.9H420.04V1963H439.87H459.69H479.53H499.36H519.18H539.01H558.85H578.67H598.5H618.33H638.16H657.99H677.82H697.65H717.48H737.31H757.14H776.97H796.8H816.63H836.46H856.29H876.12H895.95H915.78V1960H935.61V1961H955.44V1963H975.27H995.1V1961H1014.93V1963H1034.76H1054.59H1074.42H1094.25H1114.09H1133.91H1153.74H1173.57H1193.4H1213.23H1233.07H1252.89H1272.72H1292.55H1312.38H1332.21H1352.04H1371.88H1391.7H1411.53H1431.36H1451.19H1471.03H1490.86H1510.68H1530.51H1550.34H1570.17H1590H1609.84H1629.66H1649.49H1669.32H1689.15H1708.98H1728.82H1748.64H1768.47V1961.2H1788.3V1963H1808.13H1827.96H1847.79H1867.62H1887.45H1907.28H1927.11H1946.94H1966.77H1986.61H2006.43H2026.26H2046.09H2056.01" stroke="#41a04c" stroke-width="2" fill="none"/>
<path d="M410.12 1963H420.04V1944.7H439.87V1963H459.69H479.53H499.36H519.18H539.01H558.85H578.67H598.5H618.33H638.16H657.99H677.82H697.65H717.48H737.31H757.14H776.97H796.8H816.63H836.46H856.29H876.12H895.95H915.78H935.61H955.44H975.27H995.1H1014.93H1034.76H1054.59H1074.42H1094.25H1114.09H1133.91H1153.74H1173.57H1193.4H1213.23H1233.07H1252.89H1272.72H1292.55H1312.38H1332.21H1352.04H1371.88H1391.7H1411.53H1431.36H1451.19H1471.03H1490.86H1510.68H1530.51H1550.34H1570.17H1590H1609.84H1629.66H1649.49H1669.32H1689.15H1708.98H1728.82H1748.64H1768.47H1788.3V1957.2H1808.13V1963H1827.96H1847.79H1867.62H1887.45H1907.28H1927.11H1946.94H1966.77H1986.61H2006.43H2026.26H2046.09H2056.01" stroke="#41a04c" stroke-width="2" fill="none"/>
<path d="M410.12 1963H420.04V1958.8H439.87V1963H459.69H479.53H499.36H519.18H539.01H558.85H578.67H598.5H618.33H638.16V1959.3H657.99V1951.6H677.82V1963H697.65H717.48H737.31H757.14H776.97H796.8H816.63H836.46H856.29H876.12H895.95H915.78H935.61H955.44H975.27H995.1H1014.93H1034.76H1054.59H1074.42H1094.25H1114.09V1934H1133.91V1963H1153.74H1173.57H1193.4H1213.23V1955.7H1233.07V1963H1252.89H1272.72V1955H1292.55V1963H1312.38H1332.21H1352.04H1371.88H1391.7H1411.53H1431.36H1451.19H1471.03H1490.86H1510.68H1530.51H1550.34H1570.17H1590H1609.84H1629.66H1649.49H1669.32V1860H1689.15V1957.5H1708.98V1963H1728.82H1748.64V1913.8H1768.47V1963H1788.3H1808.13H1827.96H1847.79H1867.62H1887.45H1907.28H1927.11H1946.94H1966.77H1986.61V1949.5H2006.43V1963H2026.26H2046.09H2056.01" stroke="#41a04c" stroke-width="2" fill="none"/>
<path d="M410.12 1963H420.04H439.87H459.69V1960.3H479.53H499.36H519.18H539.01H558.85V1963H578.67V1960H598.5V1963H618.33V1960H638.16V1963H657.99H677.82H697.65H717.48H737.31H757.14H776.97H796.8H816.63H836.46H856.29H876.12H895.95H915.78H935.61H955.44H975.27H995.1H1014.93H1034.76H1054.59H1074.42H1094.25H1114.09H1133.91H1153.74H1173.57H1193.4H1213.23H1233.07H1252.89H1272.72H1292.55H1312.38H1332.21H1352.04H1371.88H1391.7H1411.53H1431.36V1960H1451.19V1963H1471.03H1490.86H1510.68H1530.51H1550.34H1570.17H1590H1609.84V1960H1629.66V1963H1649.49H1669.32H1689.15H1708.98H1728.82H1748.64H1768.47H1788.3H1808.13V1961.9H1827.96V1963H1847.79H1867.62H1887.45H1907.28H1927.11H1946.94H1966.77H1986.61H2006.43H2026.26H2046.09H2056.01" stroke="#3276b3" stroke-width="2" fill="none"/>
<path d="M410.12 1963H420.04H439.87V1894.5H459.69V1963H479.53H499.36H519.18H539.01H558.85V1958.3H578.67V1963H598.5H618.33H638.16H657.99H677.82H697.65H717.48H737.31H757.14H776.97H796.8H816.63H836.46H856.29H876.12H895.95H915.78H935.61H955.44V1952.4H975.27V1956.2H995.1V1963H1014.93V1956.7H1034.76V1963H1054.59H1074.42H1094.25H1114.09H1133.91H1153.74H1173.57H1193.4H1213.23H1233.07H1252.89H1272.72H1292.55H1312.38H1332.21H1352.04H1371.88H1391.7H1411.53H1431.36H1451.19V1958.8H1471.03V1963H1490.86H1510.68H1530.51H1550.34H1570.17H1590H1609.84H1629.66H1649.49H1669.32H1689.15H1708.98V1939.6H1728.82V1963H1748.64H1768.47H1788.3H1808.13V1949.9H1827.96V1963H1847.79H1867.62H1887.45H1907.28H1927.11H1946.94H1966.77H1986.61H2006.43H2026.26H2046.09H2056.01" stroke="#3276b3" stroke-width="2" fill="none"/>
<path d="M410.12 1963H420.04H439.87V1958.3H459.69V1963H479.53H499.36H519.18H539.01H558.85H578.67H598.5H618.33H638.16H657.99H677.82H697.65H717.48H737.31H757.14H776.97H796.8H816.63H836.46H856.29H876.12H895.95H915.78H935.61H955.44V1957H975.27V1963H995.1H1014.93H1034.76H1054.59H1074.42H1094.25H1114.09H1133.91H1153.74H1173.57H1193.4H1213.23H1233.07H1252.89H1272.72H1292.55H1312.38H1332.21H1352.04H1371.88H1391.7H1411.53H1431.36H1451.19H1471.03H1490.86H1510.68H1530.51H1550.34H1570.17H1590H1609.84H1629.66V1960H1649.49V1963H1669.32H1689.15H1708.98V1957.5H1728.82V1963H1748.64H1768.47H1788.3H1808.13H1827.96H1847.79H1867.62H1887.45H1907.28H1927.11H1946.94H1966.77H1986.61H2006.43H2026.26H2046.09H2056.01" stroke="#3276b3" stroke-width="2" fill="none"/>
<path d="M410.12 1963H420.04H439.87H459.69V1962.6H479.53H499.36H519.18H539.01H558.85V1963H578.67H598.5H618.33H638.16H657.99H677.82H697.65H717.48H737.31H757.14H776.97H796.8H816.63H836.46H856.29H876.12H895.95H915.78H935.61H955.44H975.27H995.1H1014.93H1034.76H1054.59H1074.42H1094.25H1114.09H1133.91H1153.74H1173.57H1193.4H1213.23H1233.07H1252.89H1272.72H1292.55H1312.38H1332.21H1352.04H1371.88H1391.7H1411.53H1431.36H1451.19H1471.03H1490.86H1510.68H1530.51H1550.34H1570.17H1590H1609.84H1629.66H1649.49H1669.32H1689.15H1708.98H1728.82H1748.64H1768.47H1788.3H1808.13H1827.96H1847.79H1867.62H1887.45H1907.28H1927.11H1946.94H1966.77H1986.61H2006.43H2026.26H2046.09H2056.01" stroke="#3276b3" stroke-width="2" fill="none"/>
<path d="M410.12 1963H420.04H439.87H459.69H479.53H499.36H519.18H539.01H558.85H578.67H598.5H618.33H638.16H657.99H677.82H697.65H717.48H737.31H757.14H776.97H796.8H816.63H836.46H856.29H876.12H895.95H915.78H935.61H955.44H975.27H995.1H1014.93H1034.76H1054.59H1074.42H1094.25H1114.09H1133.91H1153.74H1173.57H1193.4H1213.23H1233.07H1252.89H1272.72H1292.55V1955.7H1312.38V1908.5H1332.21V1949.8H1352.04V1963H1371.88H1391.7H1411.53H1431.36H1451.19H1471.03H1490.86H1510.68H1530.51H1550.34H1570.17H1590H1609.84H1629.66H1649.49H1669.32H1689.15H1708.98H1728.82H1748.64H1768.47H1788.3H1808.13H1827.96H1847.79H1867.62H1887.45H1907.28H1927.11H1946.94H1966.77H1986.61H2006.43H2026.26H2046.09H2056.01" stroke="#3276b3" stroke-width="2" fill="none"/>
<path d="M410.12 1965H2056.01" stroke="#3276b3" stroke-width="1.8" fill="none"/>
<path d="M687.74 1930.1V1944.1M680.74 1937.1H694.74" fill="none" stroke="#8a4c9c" stroke-width="1.4"/>
<path d="M846.38 1951.8V1965.8M839.38 1958.8H853.38" fill="none" stroke="#8a4c9c" stroke-width="1.4"/>
<path d="M866.21 1951.8V1965.8M859.21 1958.8H873.21" fill="none" stroke="#8a4c9c" stroke-width="1.4"/>
<path d="M1143.83 1952.3V1966.3M1136.83 1959.3H1150.83" fill="none" stroke="#8a4c9c" stroke-width="1.4"/>
<path d="M1163.66 1952.3V1966.3M1156.66 1959.3H1170.66" fill="none" stroke="#8a4c9c" stroke-width="1.4"/>
<path d="M1183.49 1930.1V1944.1M1176.49 1937.1H1190.49" fill="none" stroke="#8a4c9c" stroke-width="1.4"/>
<path d="M1262.81 1930.6V1944.6M1255.81 1937.6H1269.81" fill="none" stroke="#8a4c9c" stroke-width="1.4"/>
<path d="M1659.41 1925V1939M1652.41 1932H1666.41" fill="none" stroke="#8a4c9c" stroke-width="1.4"/>
<path d="M1738.73 1939.6V1953.6M1731.73 1946.6H1745.73" fill="none" stroke="#8a4c9c" stroke-width="1.4"/>
<path d="M1837.88 1950.9V1964.9M1830.88 1957.9H1844.88" fill="none" stroke="#8a4c9c" stroke-width="1.4"/>
<circle cx="1064.51" cy="1958.3" r="3.75" fill="none" stroke="#8a4c9c" stroke-width="1.4"/>
<circle cx="1401.62" cy="1959.3" r="3.75" fill="none" stroke="#8a4c9c" stroke-width="1.4"/>
<path d="M727.4 1954.2L732.4 1962.9L722.4 1962.9Z" fill="none" stroke="#da2038" stroke-width="1.4" stroke-linejoin="miter"/>
<path d="M886.04 1950.9L891.04 1959.6L881.04 1959.6Z" fill="none" stroke="#da2038" stroke-width="1.4" stroke-linejoin="miter"/>
<path d="M905.87 1953.7L910.87 1962.4L900.87 1962.4Z" fill="none" stroke="#da2038" stroke-width="1.4" stroke-linejoin="miter"/>
<path d="M1104.17 1944.5L1109.17 1953.2L1099.17 1953.2Z" fill="none" stroke="#da2038" stroke-width="1.4" stroke-linejoin="miter"/>
<path d="M1203.32 1950.4L1208.32 1959.1L1198.32 1959.1Z" fill="none" stroke="#da2038" stroke-width="1.4" stroke-linejoin="miter"/>
<path d="M1242.98 1943.5L1247.98 1952.2L1237.98 1952.2Z" fill="none" stroke="#da2038" stroke-width="1.4" stroke-linejoin="miter"/>
<path d="M1381.79 1938.4L1386.79 1947.1L1376.79 1947.1Z" fill="none" stroke="#da2038" stroke-width="1.4" stroke-linejoin="miter"/>
<path d="M1480.94 1952.1L1485.94 1960.8L1475.94 1960.8Z" fill="none" stroke="#da2038" stroke-width="1.4" stroke-linejoin="miter"/>
<path d="M1520.6 1950.4L1525.6 1959.1L1515.6 1959.1Z" fill="none" stroke="#da2038" stroke-width="1.4" stroke-linejoin="miter"/>
<path d="M1897.37 1942.1L1902.37 1950.8L1892.37 1950.8Z" fill="none" stroke="#da2038" stroke-width="1.4" stroke-linejoin="miter"/>
<path d="M1937.03 1949.7L1942.03 1958.4L1932.03 1958.4Z" fill="none" stroke="#da2038" stroke-width="1.4" stroke-linejoin="miter"/>
<path d="M1976.69 1950.1L1981.69 1958.8L1971.69 1958.8Z" fill="none" stroke="#da2038" stroke-width="1.4" stroke-linejoin="miter"/>
<path d="M2016.35 1928.4L2021.35 1937.1L2011.35 1937.1Z" fill="none" stroke="#da2038" stroke-width="1.4" stroke-linejoin="miter"/>
<path d="M2056.01 1938.9L2061.01 1947.6L2051.01 1947.6Z" fill="none" stroke="#da2038" stroke-width="1.4" stroke-linejoin="miter"/>
<rect x="862.11" y="1952.1" width="8.2" height="8.2" fill="none" stroke="#da2038" stroke-width="1.4"/>
<rect x="1377.69" y="1940.9" width="8.2" height="8.2" fill="none" stroke="#da2038" stroke-width="1.4"/>
<path d="M429.95 1937.7V1951.7M422.95 1944.7H436.95" fill="none" stroke="#41a04c" stroke-width="1.4"/>
<path d="M1798.22 1950.2V1964.2M1791.22 1957.2H1805.22" fill="none" stroke="#41a04c" stroke-width="1.4"/>
<circle cx="429.95" cy="1958.8" r="3.75" fill="none" stroke="#41a04c" stroke-width="1.4"/>
<circle cx="648.08" cy="1959.3" r="3.75" fill="none" stroke="#41a04c" stroke-width="1.4"/>
<circle cx="667.91" cy="1951.6" r="3.75" fill="none" stroke="#41a04c" stroke-width="1.4"/>
<circle cx="1124" cy="1934" r="3.75" fill="none" stroke="#41a04c" stroke-width="1.4"/>
<circle cx="1223.15" cy="1955.7" r="3.75" fill="none" stroke="#41a04c" stroke-width="1.4"/>
<circle cx="1282.64" cy="1955" r="3.75" fill="none" stroke="#41a04c" stroke-width="1.4"/>
<circle cx="1679.24" cy="1860" r="3.75" fill="none" stroke="#41a04c" stroke-width="1.4"/>
<circle cx="1699.07" cy="1957.5" r="3.75" fill="none" stroke="#41a04c" stroke-width="1.4"/>
<circle cx="1758.56" cy="1913.8" r="3.75" fill="none" stroke="#41a04c" stroke-width="1.4"/>
<circle cx="1996.52" cy="1949.5" r="3.75" fill="none" stroke="#41a04c" stroke-width="1.4"/>
<rect x="445.68" y="1890.4" width="8.2" height="8.2" fill="none" stroke="#3276b3" stroke-width="1.4"/>
<rect x="564.66" y="1954.2" width="8.2" height="8.2" fill="none" stroke="#3276b3" stroke-width="1.4"/>
<rect x="961.26" y="1948.3" width="8.2" height="8.2" fill="none" stroke="#3276b3" stroke-width="1.4"/>
<rect x="981.09" y="1952.1" width="8.2" height="8.2" fill="none" stroke="#3276b3" stroke-width="1.4"/>
<rect x="1020.75" y="1952.6" width="8.2" height="8.2" fill="none" stroke="#3276b3" stroke-width="1.4"/>
<rect x="1457.01" y="1954.7" width="8.2" height="8.2" fill="none" stroke="#3276b3" stroke-width="1.4"/>
<rect x="1714.8" y="1935.5" width="8.2" height="8.2" fill="none" stroke="#3276b3" stroke-width="1.4"/>
<rect x="1813.95" y="1945.8" width="8.2" height="8.2" fill="none" stroke="#3276b3" stroke-width="1.4"/>
<path d="M449.78 1951.3V1965.3M442.78 1958.3H456.78" fill="none" stroke="#3276b3" stroke-width="1.4"/>
<path d="M965.36 1950V1964M958.36 1957H972.36" fill="none" stroke="#3276b3" stroke-width="1.4"/>
<path d="M1639.58 1953V1967M1632.58 1960H1646.58" fill="none" stroke="#3276b3" stroke-width="1.4"/>
<path d="M1718.9 1950.5V1964.5M1711.9 1957.5H1725.9" fill="none" stroke="#3276b3" stroke-width="1.4"/>
<path d="M1302.47 1951.1L1307.47 1959.8L1297.47 1959.8Z" fill="none" stroke="#3276b3" stroke-width="1.4" stroke-linejoin="miter"/>
<path d="M1322.3 1903.9L1327.3 1912.6L1317.3 1912.6Z" fill="none" stroke="#3276b3" stroke-width="1.4" stroke-linejoin="miter"/>
<path d="M1342.13 1945.2L1347.13 1953.9L1337.13 1953.9Z" fill="none" stroke="#3276b3" stroke-width="1.4" stroke-linejoin="miter"/>
<path d="M125.8 539.8V845.5" stroke="#333" stroke-width="2.6" fill="none"/>
<text x="0" y="0" font-size="36.2" fill="#231f20" transform="translate(98.8 778.1) rotate(-90)">Amplicon#1</text>
<text x="282.5" y="578.3" font-size="33.9" text-anchor="end" fill="#231f20" font-style="italic">wtTrp53</text>
<text x="281.3" y="842" font-size="33.9" text-anchor="end" fill="#231f20" font-style="italic">synTrp53</text>
<path d="M125.6 1078.8V1383.7" stroke="#333" stroke-width="2.6" fill="none"/>
<text x="0" y="0" font-size="37.1" fill="#231f20" transform="translate(98.8 1344.4) rotate(-90)">Amplicon#2</text>
<text x="282.5" y="1104.6" font-size="33.9" text-anchor="end" fill="#231f20" font-style="italic">wtTrp53</text>
<text x="281.3" y="1368" font-size="33.9" text-anchor="end" fill="#231f20" font-style="italic">synTrp53</text>
<path d="M125.7 1586.7V1892.9" stroke="#333" stroke-width="2.6" fill="none"/>
<text x="0" y="0" font-size="37.1" fill="#231f20" transform="translate(98.8 1837.4) rotate(-90)">Amplicon#3</text>
<text x="282.5" y="1631.4" font-size="33.9" text-anchor="end" fill="#231f20" font-style="italic">wtTrp53</text>
<text x="281.3" y="1895.2" font-size="33.9" text-anchor="end" fill="#231f20" font-style="italic">synTrp53</text>
</svg></body></html>
